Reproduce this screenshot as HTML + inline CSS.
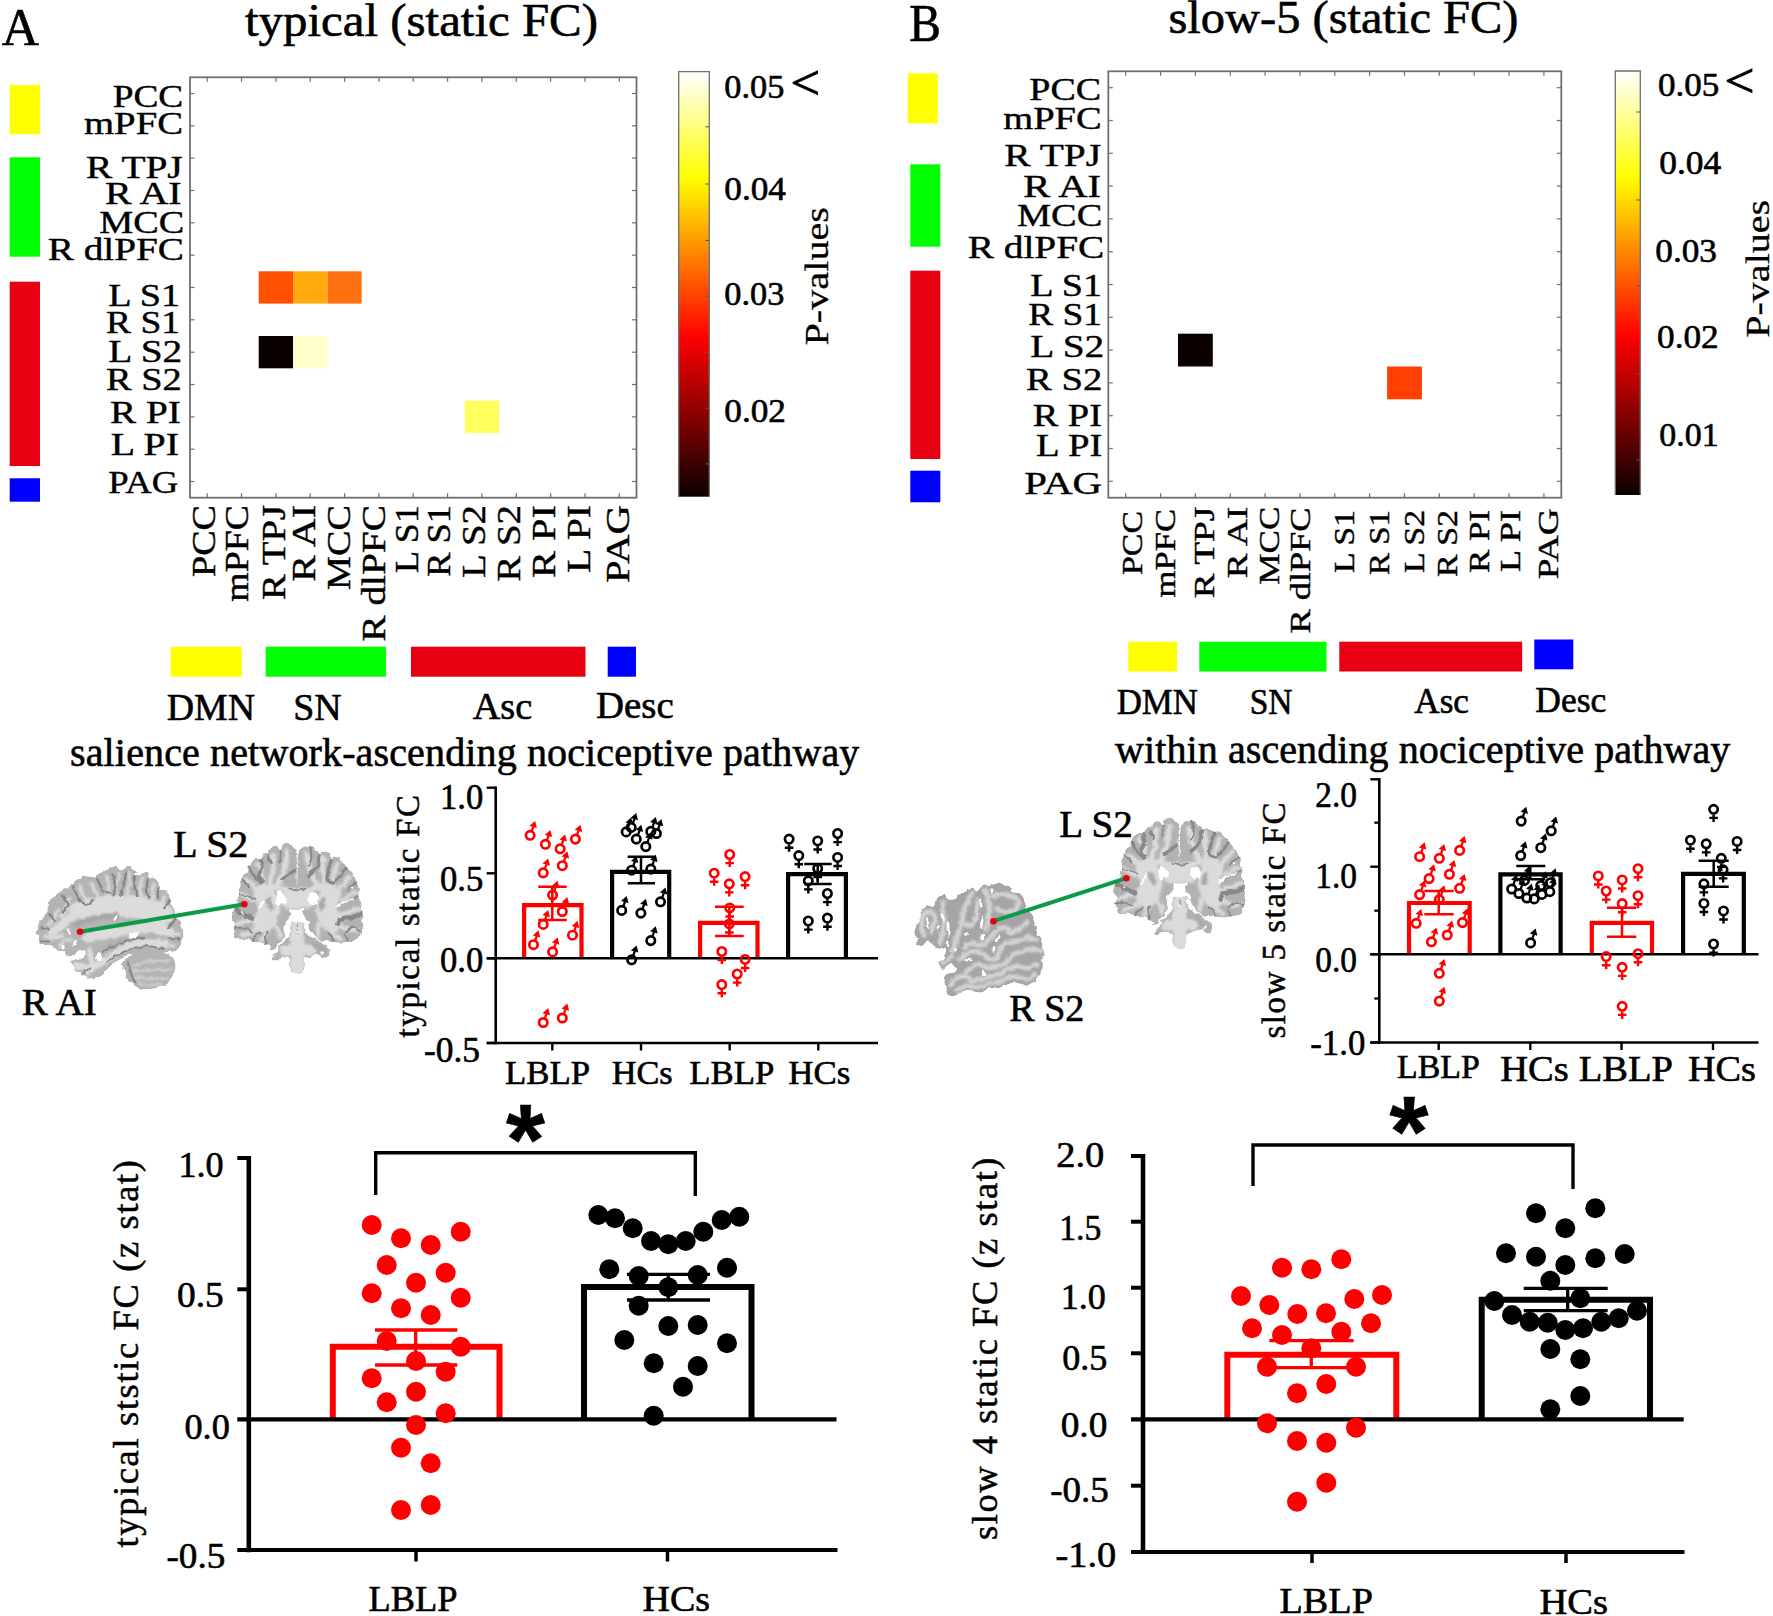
<!DOCTYPE html>
<html lang="en">
<head>
<meta charset="utf-8">
<title>Figure: static FC</title>
<style>
html,body{margin:0;padding:0;background:#fff;}
body{width:1773px;height:1616px;overflow:hidden;}
svg{display:block;font-family:'Liberation Serif', serif;}
text{stroke:#000;stroke-width:0.6;}
text[fill="#ff0000"]{stroke:#ff0000;}
</style>
</head>
<body>
<svg width="1773" height="1616" viewBox="0 0 1773 1616">
<defs>
<linearGradient id="hot" x1="0" y1="1" x2="0" y2="0">
<stop offset="0" stop-color="#0b0000"/>
<stop offset="0.375" stop-color="#ff0000"/>
<stop offset="0.75" stop-color="#ffff00"/>
<stop offset="1" stop-color="#ffffff"/>
</linearGradient>
<filter id="soft" filterUnits="userSpaceOnUse" x="0" y="780" width="1773" height="280"><feGaussianBlur stdDeviation="0.7"/></filter>
<filter id="soft2" filterUnits="userSpaceOnUse" x="0" y="780" width="1773" height="280"><feGaussianBlur stdDeviation="1.2"/></filter>
<filter id="rough" filterUnits="userSpaceOnUse" x="0" y="780" width="1773" height="280"><feTurbulence type="fractalNoise" baseFrequency="0.16" numOctaves="2" seed="7" result="n"/><feDisplacementMap in="SourceGraphic" in2="n" scale="4.5" xChannelSelector="R" yChannelSelector="G"/></filter>
</defs>
<rect x="0" y="0" width="1773" height="1616" fill="#ffffff"/>
<text x="1.7" y="45.0" font-size="53" text-anchor="start" fill="#000" textLength="37.3" lengthAdjust="spacingAndGlyphs">A</text>
<text x="909.3" y="40.7" font-size="52" text-anchor="start" fill="#000" textLength="31.7" lengthAdjust="spacingAndGlyphs">B</text>
<text x="245.0" y="36.0" font-size="46" text-anchor="start" fill="#000" textLength="353.0" lengthAdjust="spacingAndGlyphs">typical (static FC)</text>
<text x="1168.5" y="33.3" font-size="46" text-anchor="start" fill="#000" textLength="350.0" lengthAdjust="spacingAndGlyphs">slow-5 (static FC)</text>
<rect x="258.7" y="271.3" width="34.3" height="32.3" fill="#ff4f00"/>
<rect x="293.0" y="271.3" width="34.3" height="32.3" fill="#ffab0d"/>
<rect x="327.4" y="271.3" width="34.3" height="32.3" fill="#ff7010"/>
<rect x="258.7" y="336.0" width="34.3" height="32.3" fill="#0b0000"/>
<rect x="293.0" y="336.0" width="34.3" height="32.3" fill="#ffffcc"/>
<rect x="464.8" y="400.7" width="34.3" height="32.3" fill="#ffff5e"/>
<rect x="190.0" y="77.3" width="446.5" height="420.4" fill="none" stroke="#6f6f6f" stroke-width="1.8"/>
<line x1="207.2" y1="77.3" x2="207.2" y2="81.8" stroke="#6f6f6f" stroke-width="1.2" stroke-linecap="butt"/>
<line x1="207.2" y1="497.7" x2="207.2" y2="493.2" stroke="#6f6f6f" stroke-width="1.2" stroke-linecap="butt"/>
<line x1="190.0" y1="93.5" x2="194.5" y2="93.5" stroke="#6f6f6f" stroke-width="1.2" stroke-linecap="butt"/>
<line x1="636.5" y1="93.5" x2="632.0" y2="93.5" stroke="#6f6f6f" stroke-width="1.2" stroke-linecap="butt"/>
<line x1="241.5" y1="77.3" x2="241.5" y2="81.8" stroke="#6f6f6f" stroke-width="1.2" stroke-linecap="butt"/>
<line x1="241.5" y1="497.7" x2="241.5" y2="493.2" stroke="#6f6f6f" stroke-width="1.2" stroke-linecap="butt"/>
<line x1="190.0" y1="125.8" x2="194.5" y2="125.8" stroke="#6f6f6f" stroke-width="1.2" stroke-linecap="butt"/>
<line x1="636.5" y1="125.8" x2="632.0" y2="125.8" stroke="#6f6f6f" stroke-width="1.2" stroke-linecap="butt"/>
<line x1="275.9" y1="77.3" x2="275.9" y2="81.8" stroke="#6f6f6f" stroke-width="1.2" stroke-linecap="butt"/>
<line x1="275.9" y1="497.7" x2="275.9" y2="493.2" stroke="#6f6f6f" stroke-width="1.2" stroke-linecap="butt"/>
<line x1="190.0" y1="158.1" x2="194.5" y2="158.1" stroke="#6f6f6f" stroke-width="1.2" stroke-linecap="butt"/>
<line x1="636.5" y1="158.1" x2="632.0" y2="158.1" stroke="#6f6f6f" stroke-width="1.2" stroke-linecap="butt"/>
<line x1="310.2" y1="77.3" x2="310.2" y2="81.8" stroke="#6f6f6f" stroke-width="1.2" stroke-linecap="butt"/>
<line x1="310.2" y1="497.7" x2="310.2" y2="493.2" stroke="#6f6f6f" stroke-width="1.2" stroke-linecap="butt"/>
<line x1="190.0" y1="190.5" x2="194.5" y2="190.5" stroke="#6f6f6f" stroke-width="1.2" stroke-linecap="butt"/>
<line x1="636.5" y1="190.5" x2="632.0" y2="190.5" stroke="#6f6f6f" stroke-width="1.2" stroke-linecap="butt"/>
<line x1="344.6" y1="77.3" x2="344.6" y2="81.8" stroke="#6f6f6f" stroke-width="1.2" stroke-linecap="butt"/>
<line x1="344.6" y1="497.7" x2="344.6" y2="493.2" stroke="#6f6f6f" stroke-width="1.2" stroke-linecap="butt"/>
<line x1="190.0" y1="222.8" x2="194.5" y2="222.8" stroke="#6f6f6f" stroke-width="1.2" stroke-linecap="butt"/>
<line x1="636.5" y1="222.8" x2="632.0" y2="222.8" stroke="#6f6f6f" stroke-width="1.2" stroke-linecap="butt"/>
<line x1="378.9" y1="77.3" x2="378.9" y2="81.8" stroke="#6f6f6f" stroke-width="1.2" stroke-linecap="butt"/>
<line x1="378.9" y1="497.7" x2="378.9" y2="493.2" stroke="#6f6f6f" stroke-width="1.2" stroke-linecap="butt"/>
<line x1="190.0" y1="255.2" x2="194.5" y2="255.2" stroke="#6f6f6f" stroke-width="1.2" stroke-linecap="butt"/>
<line x1="636.5" y1="255.2" x2="632.0" y2="255.2" stroke="#6f6f6f" stroke-width="1.2" stroke-linecap="butt"/>
<line x1="413.2" y1="77.3" x2="413.2" y2="81.8" stroke="#6f6f6f" stroke-width="1.2" stroke-linecap="butt"/>
<line x1="413.2" y1="497.7" x2="413.2" y2="493.2" stroke="#6f6f6f" stroke-width="1.2" stroke-linecap="butt"/>
<line x1="190.0" y1="287.5" x2="194.5" y2="287.5" stroke="#6f6f6f" stroke-width="1.2" stroke-linecap="butt"/>
<line x1="636.5" y1="287.5" x2="632.0" y2="287.5" stroke="#6f6f6f" stroke-width="1.2" stroke-linecap="butt"/>
<line x1="447.6" y1="77.3" x2="447.6" y2="81.8" stroke="#6f6f6f" stroke-width="1.2" stroke-linecap="butt"/>
<line x1="447.6" y1="497.7" x2="447.6" y2="493.2" stroke="#6f6f6f" stroke-width="1.2" stroke-linecap="butt"/>
<line x1="190.0" y1="319.8" x2="194.5" y2="319.8" stroke="#6f6f6f" stroke-width="1.2" stroke-linecap="butt"/>
<line x1="636.5" y1="319.8" x2="632.0" y2="319.8" stroke="#6f6f6f" stroke-width="1.2" stroke-linecap="butt"/>
<line x1="481.9" y1="77.3" x2="481.9" y2="81.8" stroke="#6f6f6f" stroke-width="1.2" stroke-linecap="butt"/>
<line x1="481.9" y1="497.7" x2="481.9" y2="493.2" stroke="#6f6f6f" stroke-width="1.2" stroke-linecap="butt"/>
<line x1="190.0" y1="352.2" x2="194.5" y2="352.2" stroke="#6f6f6f" stroke-width="1.2" stroke-linecap="butt"/>
<line x1="636.5" y1="352.2" x2="632.0" y2="352.2" stroke="#6f6f6f" stroke-width="1.2" stroke-linecap="butt"/>
<line x1="516.3" y1="77.3" x2="516.3" y2="81.8" stroke="#6f6f6f" stroke-width="1.2" stroke-linecap="butt"/>
<line x1="516.3" y1="497.7" x2="516.3" y2="493.2" stroke="#6f6f6f" stroke-width="1.2" stroke-linecap="butt"/>
<line x1="190.0" y1="384.5" x2="194.5" y2="384.5" stroke="#6f6f6f" stroke-width="1.2" stroke-linecap="butt"/>
<line x1="636.5" y1="384.5" x2="632.0" y2="384.5" stroke="#6f6f6f" stroke-width="1.2" stroke-linecap="butt"/>
<line x1="550.6" y1="77.3" x2="550.6" y2="81.8" stroke="#6f6f6f" stroke-width="1.2" stroke-linecap="butt"/>
<line x1="550.6" y1="497.7" x2="550.6" y2="493.2" stroke="#6f6f6f" stroke-width="1.2" stroke-linecap="butt"/>
<line x1="190.0" y1="416.9" x2="194.5" y2="416.9" stroke="#6f6f6f" stroke-width="1.2" stroke-linecap="butt"/>
<line x1="636.5" y1="416.9" x2="632.0" y2="416.9" stroke="#6f6f6f" stroke-width="1.2" stroke-linecap="butt"/>
<line x1="585.0" y1="77.3" x2="585.0" y2="81.8" stroke="#6f6f6f" stroke-width="1.2" stroke-linecap="butt"/>
<line x1="585.0" y1="497.7" x2="585.0" y2="493.2" stroke="#6f6f6f" stroke-width="1.2" stroke-linecap="butt"/>
<line x1="190.0" y1="449.2" x2="194.5" y2="449.2" stroke="#6f6f6f" stroke-width="1.2" stroke-linecap="butt"/>
<line x1="636.5" y1="449.2" x2="632.0" y2="449.2" stroke="#6f6f6f" stroke-width="1.2" stroke-linecap="butt"/>
<line x1="619.3" y1="77.3" x2="619.3" y2="81.8" stroke="#6f6f6f" stroke-width="1.2" stroke-linecap="butt"/>
<line x1="619.3" y1="497.7" x2="619.3" y2="493.2" stroke="#6f6f6f" stroke-width="1.2" stroke-linecap="butt"/>
<line x1="190.0" y1="481.5" x2="194.5" y2="481.5" stroke="#6f6f6f" stroke-width="1.2" stroke-linecap="butt"/>
<line x1="636.5" y1="481.5" x2="632.0" y2="481.5" stroke="#6f6f6f" stroke-width="1.2" stroke-linecap="butt"/>
<rect x="1178.0" y="333.7" width="34.8" height="32.8" fill="#0b0000"/>
<rect x="1387.1" y="366.5" width="34.8" height="32.8" fill="#ff4000"/>
<rect x="1108.3" y="71.3" width="453.0" height="426.4" fill="none" stroke="#6f6f6f" stroke-width="1.8"/>
<line x1="1125.7" y1="71.3" x2="1125.7" y2="75.8" stroke="#6f6f6f" stroke-width="1.2" stroke-linecap="butt"/>
<line x1="1125.7" y1="497.7" x2="1125.7" y2="493.2" stroke="#6f6f6f" stroke-width="1.2" stroke-linecap="butt"/>
<line x1="1108.3" y1="87.7" x2="1112.8" y2="87.7" stroke="#6f6f6f" stroke-width="1.2" stroke-linecap="butt"/>
<line x1="1561.3" y1="87.7" x2="1556.8" y2="87.7" stroke="#6f6f6f" stroke-width="1.2" stroke-linecap="butt"/>
<line x1="1160.6" y1="71.3" x2="1160.6" y2="75.8" stroke="#6f6f6f" stroke-width="1.2" stroke-linecap="butt"/>
<line x1="1160.6" y1="497.7" x2="1160.6" y2="493.2" stroke="#6f6f6f" stroke-width="1.2" stroke-linecap="butt"/>
<line x1="1108.3" y1="120.5" x2="1112.8" y2="120.5" stroke="#6f6f6f" stroke-width="1.2" stroke-linecap="butt"/>
<line x1="1561.3" y1="120.5" x2="1556.8" y2="120.5" stroke="#6f6f6f" stroke-width="1.2" stroke-linecap="butt"/>
<line x1="1195.4" y1="71.3" x2="1195.4" y2="75.8" stroke="#6f6f6f" stroke-width="1.2" stroke-linecap="butt"/>
<line x1="1195.4" y1="497.7" x2="1195.4" y2="493.2" stroke="#6f6f6f" stroke-width="1.2" stroke-linecap="butt"/>
<line x1="1108.3" y1="153.3" x2="1112.8" y2="153.3" stroke="#6f6f6f" stroke-width="1.2" stroke-linecap="butt"/>
<line x1="1561.3" y1="153.3" x2="1556.8" y2="153.3" stroke="#6f6f6f" stroke-width="1.2" stroke-linecap="butt"/>
<line x1="1230.3" y1="71.3" x2="1230.3" y2="75.8" stroke="#6f6f6f" stroke-width="1.2" stroke-linecap="butt"/>
<line x1="1230.3" y1="497.7" x2="1230.3" y2="493.2" stroke="#6f6f6f" stroke-width="1.2" stroke-linecap="butt"/>
<line x1="1108.3" y1="186.1" x2="1112.8" y2="186.1" stroke="#6f6f6f" stroke-width="1.2" stroke-linecap="butt"/>
<line x1="1561.3" y1="186.1" x2="1556.8" y2="186.1" stroke="#6f6f6f" stroke-width="1.2" stroke-linecap="butt"/>
<line x1="1265.1" y1="71.3" x2="1265.1" y2="75.8" stroke="#6f6f6f" stroke-width="1.2" stroke-linecap="butt"/>
<line x1="1265.1" y1="497.7" x2="1265.1" y2="493.2" stroke="#6f6f6f" stroke-width="1.2" stroke-linecap="butt"/>
<line x1="1108.3" y1="218.9" x2="1112.8" y2="218.9" stroke="#6f6f6f" stroke-width="1.2" stroke-linecap="butt"/>
<line x1="1561.3" y1="218.9" x2="1556.8" y2="218.9" stroke="#6f6f6f" stroke-width="1.2" stroke-linecap="butt"/>
<line x1="1300.0" y1="71.3" x2="1300.0" y2="75.8" stroke="#6f6f6f" stroke-width="1.2" stroke-linecap="butt"/>
<line x1="1300.0" y1="497.7" x2="1300.0" y2="493.2" stroke="#6f6f6f" stroke-width="1.2" stroke-linecap="butt"/>
<line x1="1108.3" y1="251.7" x2="1112.8" y2="251.7" stroke="#6f6f6f" stroke-width="1.2" stroke-linecap="butt"/>
<line x1="1561.3" y1="251.7" x2="1556.8" y2="251.7" stroke="#6f6f6f" stroke-width="1.2" stroke-linecap="butt"/>
<line x1="1334.8" y1="71.3" x2="1334.8" y2="75.8" stroke="#6f6f6f" stroke-width="1.2" stroke-linecap="butt"/>
<line x1="1334.8" y1="497.7" x2="1334.8" y2="493.2" stroke="#6f6f6f" stroke-width="1.2" stroke-linecap="butt"/>
<line x1="1108.3" y1="284.5" x2="1112.8" y2="284.5" stroke="#6f6f6f" stroke-width="1.2" stroke-linecap="butt"/>
<line x1="1561.3" y1="284.5" x2="1556.8" y2="284.5" stroke="#6f6f6f" stroke-width="1.2" stroke-linecap="butt"/>
<line x1="1369.6" y1="71.3" x2="1369.6" y2="75.8" stroke="#6f6f6f" stroke-width="1.2" stroke-linecap="butt"/>
<line x1="1369.6" y1="497.7" x2="1369.6" y2="493.2" stroke="#6f6f6f" stroke-width="1.2" stroke-linecap="butt"/>
<line x1="1108.3" y1="317.3" x2="1112.8" y2="317.3" stroke="#6f6f6f" stroke-width="1.2" stroke-linecap="butt"/>
<line x1="1561.3" y1="317.3" x2="1556.8" y2="317.3" stroke="#6f6f6f" stroke-width="1.2" stroke-linecap="butt"/>
<line x1="1404.5" y1="71.3" x2="1404.5" y2="75.8" stroke="#6f6f6f" stroke-width="1.2" stroke-linecap="butt"/>
<line x1="1404.5" y1="497.7" x2="1404.5" y2="493.2" stroke="#6f6f6f" stroke-width="1.2" stroke-linecap="butt"/>
<line x1="1108.3" y1="350.1" x2="1112.8" y2="350.1" stroke="#6f6f6f" stroke-width="1.2" stroke-linecap="butt"/>
<line x1="1561.3" y1="350.1" x2="1556.8" y2="350.1" stroke="#6f6f6f" stroke-width="1.2" stroke-linecap="butt"/>
<line x1="1439.3" y1="71.3" x2="1439.3" y2="75.8" stroke="#6f6f6f" stroke-width="1.2" stroke-linecap="butt"/>
<line x1="1439.3" y1="497.7" x2="1439.3" y2="493.2" stroke="#6f6f6f" stroke-width="1.2" stroke-linecap="butt"/>
<line x1="1108.3" y1="382.9" x2="1112.8" y2="382.9" stroke="#6f6f6f" stroke-width="1.2" stroke-linecap="butt"/>
<line x1="1561.3" y1="382.9" x2="1556.8" y2="382.9" stroke="#6f6f6f" stroke-width="1.2" stroke-linecap="butt"/>
<line x1="1474.2" y1="71.3" x2="1474.2" y2="75.8" stroke="#6f6f6f" stroke-width="1.2" stroke-linecap="butt"/>
<line x1="1474.2" y1="497.7" x2="1474.2" y2="493.2" stroke="#6f6f6f" stroke-width="1.2" stroke-linecap="butt"/>
<line x1="1108.3" y1="415.7" x2="1112.8" y2="415.7" stroke="#6f6f6f" stroke-width="1.2" stroke-linecap="butt"/>
<line x1="1561.3" y1="415.7" x2="1556.8" y2="415.7" stroke="#6f6f6f" stroke-width="1.2" stroke-linecap="butt"/>
<line x1="1509.0" y1="71.3" x2="1509.0" y2="75.8" stroke="#6f6f6f" stroke-width="1.2" stroke-linecap="butt"/>
<line x1="1509.0" y1="497.7" x2="1509.0" y2="493.2" stroke="#6f6f6f" stroke-width="1.2" stroke-linecap="butt"/>
<line x1="1108.3" y1="448.5" x2="1112.8" y2="448.5" stroke="#6f6f6f" stroke-width="1.2" stroke-linecap="butt"/>
<line x1="1561.3" y1="448.5" x2="1556.8" y2="448.5" stroke="#6f6f6f" stroke-width="1.2" stroke-linecap="butt"/>
<line x1="1543.9" y1="71.3" x2="1543.9" y2="75.8" stroke="#6f6f6f" stroke-width="1.2" stroke-linecap="butt"/>
<line x1="1543.9" y1="497.7" x2="1543.9" y2="493.2" stroke="#6f6f6f" stroke-width="1.2" stroke-linecap="butt"/>
<line x1="1108.3" y1="481.3" x2="1112.8" y2="481.3" stroke="#6f6f6f" stroke-width="1.2" stroke-linecap="butt"/>
<line x1="1561.3" y1="481.3" x2="1556.8" y2="481.3" stroke="#6f6f6f" stroke-width="1.2" stroke-linecap="butt"/>
<rect x="9.7" y="85.0" width="30.3" height="49.3" fill="#ffff00"/>
<rect x="9.7" y="157.3" width="30.3" height="99.4" fill="#00ff00"/>
<rect x="9.7" y="281.7" width="30.3" height="184.3" fill="#e60012"/>
<rect x="9.7" y="478.3" width="30.3" height="23.4" fill="#0000ff"/>
<rect x="907.7" y="73.3" width="30.0" height="50.0" fill="#ffff00"/>
<rect x="910.3" y="164.3" width="30.0" height="82.4" fill="#00ff00"/>
<rect x="910.3" y="270.7" width="30.0" height="188.3" fill="#e60012"/>
<rect x="910.3" y="470.7" width="30.0" height="31.6" fill="#0000ff"/>
<text x="112.7" y="106.6" font-size="31" text-anchor="start" fill="#000" textLength="70.6" lengthAdjust="spacingAndGlyphs" style="stroke-width:0.4">PCC</text>
<text x="84.0" y="133.6" font-size="31" text-anchor="start" fill="#000" textLength="99.0" lengthAdjust="spacingAndGlyphs" style="stroke-width:0.4">mPFC</text>
<text x="86.0" y="178.0" font-size="31" text-anchor="start" fill="#000" textLength="96.7" lengthAdjust="spacingAndGlyphs" style="stroke-width:0.4">R TPJ</text>
<text x="105.0" y="204.3" font-size="31" text-anchor="start" fill="#000" textLength="76.7" lengthAdjust="spacingAndGlyphs" style="stroke-width:0.4">R AI</text>
<text x="99.3" y="233.0" font-size="31" text-anchor="start" fill="#000" textLength="85.0" lengthAdjust="spacingAndGlyphs" style="stroke-width:0.4">MCC</text>
<text x="47.7" y="260.3" font-size="31" text-anchor="start" fill="#000" textLength="136.3" lengthAdjust="spacingAndGlyphs" style="stroke-width:0.4">R dlPFC</text>
<text x="108.3" y="306.0" font-size="31" text-anchor="start" fill="#000" textLength="71.7" lengthAdjust="spacingAndGlyphs" style="stroke-width:0.4">L S1</text>
<text x="106.0" y="333.0" font-size="31" text-anchor="start" fill="#000" textLength="74.0" lengthAdjust="spacingAndGlyphs" style="stroke-width:0.4">R S1</text>
<text x="108.3" y="362.0" font-size="31" text-anchor="start" fill="#000" textLength="74.0" lengthAdjust="spacingAndGlyphs" style="stroke-width:0.4">L S2</text>
<text x="106.0" y="390.3" font-size="31" text-anchor="start" fill="#000" textLength="75.7" lengthAdjust="spacingAndGlyphs" style="stroke-width:0.4">R S2</text>
<text x="110.0" y="422.6" font-size="31" text-anchor="start" fill="#000" textLength="70.7" lengthAdjust="spacingAndGlyphs" style="stroke-width:0.4">R PI</text>
<text x="110.7" y="455.3" font-size="31" text-anchor="start" fill="#000" textLength="68.3" lengthAdjust="spacingAndGlyphs" style="stroke-width:0.4">L PI</text>
<text x="108.3" y="492.6" font-size="31" text-anchor="start" fill="#000" textLength="70.0" lengthAdjust="spacingAndGlyphs" style="stroke-width:0.4">PAG</text>
<text x="1029.3" y="99.6" font-size="31" text-anchor="start" fill="#000" textLength="71.7" lengthAdjust="spacingAndGlyphs" style="stroke-width:0.4">PCC</text>
<text x="1003.3" y="128.6" font-size="31" text-anchor="start" fill="#000" textLength="98.4" lengthAdjust="spacingAndGlyphs" style="stroke-width:0.4">mPFC</text>
<text x="1004.3" y="166.0" font-size="31" text-anchor="start" fill="#000" textLength="96.7" lengthAdjust="spacingAndGlyphs" style="stroke-width:0.4">R TPJ</text>
<text x="1023.3" y="197.0" font-size="31" text-anchor="start" fill="#000" textLength="77.7" lengthAdjust="spacingAndGlyphs" style="stroke-width:0.4">R AI</text>
<text x="1017.0" y="226.3" font-size="31" text-anchor="start" fill="#000" textLength="85.3" lengthAdjust="spacingAndGlyphs" style="stroke-width:0.4">MCC</text>
<text x="967.7" y="257.6" font-size="31" text-anchor="start" fill="#000" textLength="136.6" lengthAdjust="spacingAndGlyphs" style="stroke-width:0.4">R dlPFC</text>
<text x="1030.3" y="296.3" font-size="31" text-anchor="start" fill="#000" textLength="71.7" lengthAdjust="spacingAndGlyphs" style="stroke-width:0.4">L S1</text>
<text x="1028.3" y="325.3" font-size="31" text-anchor="start" fill="#000" textLength="73.7" lengthAdjust="spacingAndGlyphs" style="stroke-width:0.4">R S1</text>
<text x="1030.3" y="357.0" font-size="31" text-anchor="start" fill="#000" textLength="74.0" lengthAdjust="spacingAndGlyphs" style="stroke-width:0.4">L S2</text>
<text x="1026.0" y="390.3" font-size="31" text-anchor="start" fill="#000" textLength="76.3" lengthAdjust="spacingAndGlyphs" style="stroke-width:0.4">R S2</text>
<text x="1032.7" y="426.0" font-size="31" text-anchor="start" fill="#000" textLength="69.3" lengthAdjust="spacingAndGlyphs" style="stroke-width:0.4">R PI</text>
<text x="1036.0" y="456.0" font-size="31" text-anchor="start" fill="#000" textLength="66.3" lengthAdjust="spacingAndGlyphs" style="stroke-width:0.4">L PI</text>
<text x="1024.3" y="494.3" font-size="31" text-anchor="start" fill="#000" textLength="77.7" lengthAdjust="spacingAndGlyphs" style="stroke-width:0.4">PAG</text>
<text transform="translate(215.0,577.0) rotate(-90)" font-size="33" text-anchor="start" fill="#000" textLength="72.0" lengthAdjust="spacingAndGlyphs" style="stroke-width:0.4">PCC</text>
<text transform="translate(248.3,601.7) rotate(-90)" font-size="33" text-anchor="start" fill="#000" textLength="96.7" lengthAdjust="spacingAndGlyphs" style="stroke-width:0.4">mPFC</text>
<text transform="translate(285.0,600.0) rotate(-90)" font-size="33" text-anchor="start" fill="#000" textLength="95.0" lengthAdjust="spacingAndGlyphs" style="stroke-width:0.4">R TPJ</text>
<text transform="translate(315.0,581.7) rotate(-90)" font-size="33" text-anchor="start" fill="#000" textLength="76.7" lengthAdjust="spacingAndGlyphs" style="stroke-width:0.4">R AI</text>
<text transform="translate(350.0,590.0) rotate(-90)" font-size="33" text-anchor="start" fill="#000" textLength="85.0" lengthAdjust="spacingAndGlyphs" style="stroke-width:0.4">MCC</text>
<text transform="translate(385.0,641.7) rotate(-90)" font-size="33" text-anchor="start" fill="#000" textLength="136.7" lengthAdjust="spacingAndGlyphs" style="stroke-width:0.4">R dlPFC</text>
<text transform="translate(418.3,573.0) rotate(-90)" font-size="33" text-anchor="start" fill="#000" textLength="68.0" lengthAdjust="spacingAndGlyphs" style="stroke-width:0.4">L S1</text>
<text transform="translate(450.0,576.7) rotate(-90)" font-size="33" text-anchor="start" fill="#000" textLength="71.7" lengthAdjust="spacingAndGlyphs" style="stroke-width:0.4">R S1</text>
<text transform="translate(485.0,578.0) rotate(-90)" font-size="33" text-anchor="start" fill="#000" textLength="73.0" lengthAdjust="spacingAndGlyphs" style="stroke-width:0.4">L S2</text>
<text transform="translate(520.0,581.7) rotate(-90)" font-size="33" text-anchor="start" fill="#000" textLength="76.7" lengthAdjust="spacingAndGlyphs" style="stroke-width:0.4">R S2</text>
<text transform="translate(555.0,578.0) rotate(-90)" font-size="33" text-anchor="start" fill="#000" textLength="73.0" lengthAdjust="spacingAndGlyphs" style="stroke-width:0.4">R PI</text>
<text transform="translate(590.0,573.0) rotate(-90)" font-size="33" text-anchor="start" fill="#000" textLength="68.0" lengthAdjust="spacingAndGlyphs" style="stroke-width:0.4">L PI</text>
<text transform="translate(629.3,583.0) rotate(-90)" font-size="33" text-anchor="start" fill="#000" textLength="78.0" lengthAdjust="spacingAndGlyphs" style="stroke-width:0.4">PAG</text>
<text transform="translate(1142.0,575.0) rotate(-90)" font-size="29" text-anchor="start" fill="#000" textLength="64.0" lengthAdjust="spacingAndGlyphs" style="stroke-width:0.4">PCC</text>
<text transform="translate(1175.0,597.5) rotate(-90)" font-size="29" text-anchor="start" fill="#000" textLength="88.5" lengthAdjust="spacingAndGlyphs" style="stroke-width:0.4">mPFC</text>
<text transform="translate(1213.7,598.3) rotate(-90)" font-size="29" text-anchor="start" fill="#000" textLength="91.6" lengthAdjust="spacingAndGlyphs" style="stroke-width:0.4">R TPJ</text>
<text transform="translate(1247.0,578.3) rotate(-90)" font-size="29" text-anchor="start" fill="#000" textLength="71.6" lengthAdjust="spacingAndGlyphs" style="stroke-width:0.4">R AI</text>
<text transform="translate(1278.7,584.7) rotate(-90)" font-size="29" text-anchor="start" fill="#000" textLength="78.0" lengthAdjust="spacingAndGlyphs" style="stroke-width:0.4">MCC</text>
<text transform="translate(1310.3,633.5) rotate(-90)" font-size="29" text-anchor="start" fill="#000" textLength="126.0" lengthAdjust="spacingAndGlyphs" style="stroke-width:0.4">R dlPFC</text>
<text transform="translate(1353.7,573.0) rotate(-90)" font-size="29" text-anchor="start" fill="#000" textLength="63.0" lengthAdjust="spacingAndGlyphs" style="stroke-width:0.4">L S1</text>
<text transform="translate(1388.7,575.0) rotate(-90)" font-size="29" text-anchor="start" fill="#000" textLength="65.0" lengthAdjust="spacingAndGlyphs" style="stroke-width:0.4">R S1</text>
<text transform="translate(1423.7,573.0) rotate(-90)" font-size="29" text-anchor="start" fill="#000" textLength="63.0" lengthAdjust="spacingAndGlyphs" style="stroke-width:0.4">L S2</text>
<text transform="translate(1457.0,577.0) rotate(-90)" font-size="29" text-anchor="start" fill="#000" textLength="67.0" lengthAdjust="spacingAndGlyphs" style="stroke-width:0.4">R S2</text>
<text transform="translate(1488.7,573.0) rotate(-90)" font-size="29" text-anchor="start" fill="#000" textLength="63.0" lengthAdjust="spacingAndGlyphs" style="stroke-width:0.4">R PI</text>
<text transform="translate(1520.3,572.0) rotate(-90)" font-size="29" text-anchor="start" fill="#000" textLength="62.0" lengthAdjust="spacingAndGlyphs" style="stroke-width:0.4">L PI</text>
<text transform="translate(1557.8,579.3) rotate(-90)" font-size="29" text-anchor="start" fill="#000" textLength="71.0" lengthAdjust="spacingAndGlyphs" style="stroke-width:0.4">PAG</text>
<rect x="678.7" y="71.7" width="30.6" height="425.0" fill="url(#hot)"/>
<path d="M678.7,496.7 L678.7,71.7 L709.3,71.7 L709.3,496.7" fill="none" stroke="#6f6f6f" stroke-width="1.3"/>
<line x1="705.3" y1="126.8" x2="709.3" y2="126.8" stroke="#5a5a5a" stroke-width="1" stroke-linecap="butt"/>
<line x1="705.3" y1="184.0" x2="709.3" y2="184.0" stroke="#5a5a5a" stroke-width="1" stroke-linecap="butt"/>
<line x1="705.3" y1="240.5" x2="709.3" y2="240.5" stroke="#5a5a5a" stroke-width="1" stroke-linecap="butt"/>
<line x1="705.3" y1="296.2" x2="709.3" y2="296.2" stroke="#5a5a5a" stroke-width="1" stroke-linecap="butt"/>
<line x1="705.3" y1="352.5" x2="709.3" y2="352.5" stroke="#5a5a5a" stroke-width="1" stroke-linecap="butt"/>
<line x1="705.3" y1="408.2" x2="709.3" y2="408.2" stroke="#5a5a5a" stroke-width="1" stroke-linecap="butt"/>
<line x1="705.3" y1="463.9" x2="709.3" y2="463.9" stroke="#5a5a5a" stroke-width="1" stroke-linecap="butt"/>
<rect x="1615.3" y="71.0" width="25.0" height="424.0" fill="url(#hot)"/>
<path d="M1615.3,495.0 L1615.3,71.0 L1640.3,71.0 L1640.3,495.0" fill="none" stroke="#6f6f6f" stroke-width="1.3"/>
<line x1="1636.3" y1="112.0" x2="1640.3" y2="112.0" stroke="#5a5a5a" stroke-width="1" stroke-linecap="butt"/>
<line x1="1636.3" y1="200.0" x2="1640.3" y2="200.0" stroke="#5a5a5a" stroke-width="1" stroke-linecap="butt"/>
<line x1="1636.3" y1="286.0" x2="1640.3" y2="286.0" stroke="#5a5a5a" stroke-width="1" stroke-linecap="butt"/>
<line x1="1636.3" y1="374.0" x2="1640.3" y2="374.0" stroke="#5a5a5a" stroke-width="1" stroke-linecap="butt"/>
<line x1="1636.3" y1="460.0" x2="1640.3" y2="460.0" stroke="#5a5a5a" stroke-width="1" stroke-linecap="butt"/>
<text x="724.3" y="97.7" font-size="33" text-anchor="start" fill="#000" textLength="60.0" lengthAdjust="spacingAndGlyphs">0.05</text>
<text x="724.3" y="200.3" font-size="33" text-anchor="start" fill="#000" textLength="61.7" lengthAdjust="spacingAndGlyphs">0.04</text>
<text x="724.3" y="305.0" font-size="33" text-anchor="start" fill="#000" textLength="60.0" lengthAdjust="spacingAndGlyphs">0.03</text>
<text x="724.3" y="421.7" font-size="33" text-anchor="start" fill="#000" textLength="61.7" lengthAdjust="spacingAndGlyphs">0.02</text>
<text x="1658.0" y="96.0" font-size="33" text-anchor="start" fill="#000" textLength="61.3" lengthAdjust="spacingAndGlyphs">0.05</text>
<text x="1659.3" y="174.3" font-size="33" text-anchor="start" fill="#000" textLength="62.0" lengthAdjust="spacingAndGlyphs">0.04</text>
<text x="1655.3" y="261.7" font-size="33" text-anchor="start" fill="#000" textLength="61.7" lengthAdjust="spacingAndGlyphs">0.03</text>
<text x="1657.0" y="347.7" font-size="33" text-anchor="start" fill="#000" textLength="61.7" lengthAdjust="spacingAndGlyphs">0.02</text>
<text x="1659.3" y="446.0" font-size="33" text-anchor="start" fill="#000" textLength="59.4" lengthAdjust="spacingAndGlyphs">0.01</text>
<text x="790.5" y="99.0" font-size="48" text-anchor="start" fill="#000" textLength="29.5" lengthAdjust="spacingAndGlyphs" style="stroke-width:0.9">&lt;</text>
<text x="1724.5" y="96.5" font-size="48" text-anchor="start" fill="#000" textLength="30.0" lengthAdjust="spacingAndGlyphs" style="stroke-width:0.9">&lt;</text>
<text transform="translate(827.5,345.5) rotate(-90)" font-size="34.5" text-anchor="start" fill="#000" textLength="138.5" lengthAdjust="spacingAndGlyphs" style="stroke-width:0.25">P-values</text>
<text transform="translate(1768.5,337.8) rotate(-90)" font-size="34.5" text-anchor="start" fill="#000" textLength="138.0" lengthAdjust="spacingAndGlyphs" style="stroke-width:0.25">P-values</text>
<rect x="170.7" y="646.7" width="71.0" height="30.0" fill="#ffff00"/>
<rect x="265.7" y="646.7" width="120.3" height="30.0" fill="#00ff00"/>
<rect x="411.0" y="646.7" width="174.5" height="30.0" fill="#e60012"/>
<rect x="607.7" y="646.7" width="28.3" height="30.0" fill="#0000ff"/>
<rect x="1128.3" y="641.7" width="48.7" height="29.8" fill="#ffff00"/>
<rect x="1199.3" y="641.7" width="127.2" height="29.8" fill="#00ff00"/>
<rect x="1339.3" y="641.7" width="182.9" height="29.8" fill="#e60012"/>
<rect x="1534.3" y="639.5" width="39.0" height="29.8" fill="#0000ff"/>
<text x="166.7" y="720.0" font-size="38" text-anchor="start" fill="#000" textLength="88.3" lengthAdjust="spacingAndGlyphs">DMN</text>
<text x="293.3" y="720.0" font-size="38" text-anchor="start" fill="#000" textLength="48.4" lengthAdjust="spacingAndGlyphs">SN</text>
<text x="472.7" y="718.5" font-size="38" text-anchor="start" fill="#000" textLength="59.6" lengthAdjust="spacingAndGlyphs">Asc</text>
<text x="596.0" y="718.3" font-size="38" text-anchor="start" fill="#000" textLength="77.7" lengthAdjust="spacingAndGlyphs">Desc</text>
<text x="1116.7" y="714.0" font-size="36" text-anchor="start" fill="#000" textLength="81.3" lengthAdjust="spacingAndGlyphs">DMN</text>
<text x="1249.7" y="714.0" font-size="36" text-anchor="start" fill="#000" textLength="42.8" lengthAdjust="spacingAndGlyphs">SN</text>
<text x="1414.3" y="712.7" font-size="36" text-anchor="start" fill="#000" textLength="54.6" lengthAdjust="spacingAndGlyphs">Asc</text>
<text x="1535.3" y="711.7" font-size="36" text-anchor="start" fill="#000" textLength="71.0" lengthAdjust="spacingAndGlyphs">Desc</text>
<text x="70.0" y="766.0" font-size="40" text-anchor="start" fill="#000" textLength="789.3" lengthAdjust="spacing">salience network-ascending nociceptive pathway</text>
<text x="1115.0" y="763.0" font-size="40" text-anchor="start" fill="#000" textLength="615.3" lengthAdjust="spacing">within ascending nociceptive pathway</text>
<clipPath id="bc1"><path d="M36.7,931.7 C36.7,929.3 38.3,923.7 39.6,921.2 C40.9,918.6 42.9,918.4 44.4,916.4 C45.8,914.3 47.4,911.1 48.2,908.7 C49.0,906.3 48.1,904.2 49.2,902.0 C50.3,899.7 52.9,897.2 54.9,895.3 C57.0,893.4 59.4,891.8 61.6,890.5 C63.9,889.2 66.6,888.9 68.4,887.6 C70.1,886.3 70.3,884.4 72.2,882.8 C74.1,881.2 77.3,879.0 79.9,878.0 C82.4,877.0 85.0,876.7 87.5,876.6 C90.1,876.4 93.3,877.6 95.2,877.1 C97.1,876.5 97.1,874.3 99.0,873.2 C100.9,872.1 104.9,871.3 106.7,870.3 C108.5,869.4 108.0,868.0 109.6,867.5 C111.2,866.9 114.4,866.5 116.3,867.0 C118.2,867.5 119.3,870.3 121.1,870.3 C122.8,870.3 125.1,867.5 126.8,867.0 C128.6,866.5 130.0,866.9 131.6,867.5 C133.2,868.0 135.9,869.1 136.4,870.3 C136.9,871.6 133.7,874.7 134.5,875.1 C135.3,875.6 139.0,873.7 141.2,873.2 C143.5,872.7 146.5,871.6 147.9,872.3 C149.4,872.9 148.7,876.1 149.8,877.1 C151.0,878.0 153.2,877.1 154.6,878.0 C156.1,879.0 157.7,880.9 158.5,882.8 C159.3,884.7 158.2,888.2 159.4,889.5 C160.7,890.8 164.5,889.4 166.1,890.5 C167.7,891.6 168.2,894.1 169.0,896.2 C169.8,898.3 170.1,900.9 170.9,902.9 C171.7,905.0 172.9,906.8 173.8,908.7 C174.8,910.6 175.7,912.2 176.7,914.4 C177.7,916.7 178.6,919.9 179.6,922.1 C180.5,924.4 181.8,925.8 182.4,927.9 C183.1,929.9 183.4,932.3 183.4,934.6 C183.4,936.8 183.1,939.2 182.4,941.3 C181.8,943.4 180.7,945.4 179.6,947.0 C178.4,948.6 177.5,950.1 175.7,950.9 C174.0,951.7 170.9,951.5 169.0,951.8 C167.1,952.2 164.1,952.2 164.2,952.8 C164.4,953.4 168.2,954.2 170.0,955.7 C171.7,957.1 173.9,959.2 174.8,961.4 C175.7,963.7 175.6,966.7 175.3,969.1 C174.9,971.5 174.1,973.6 172.9,975.8 C171.7,978.0 170.0,980.8 168.1,982.5 C166.1,984.3 163.9,985.3 161.4,986.4 C158.8,987.4 155.8,988.3 152.7,988.7 C149.7,989.2 146.0,989.6 143.1,989.2 C140.3,988.8 137.7,987.5 135.5,986.4 C133.2,985.2 131.2,984.0 129.7,982.5 C128.3,981.1 127.5,979.5 126.8,977.7 C126.2,976.0 126.5,973.7 125.9,972.0 C125.2,970.2 123.6,968.8 123.0,967.2 C122.4,965.6 121.6,963.8 122.0,962.4 C122.5,960.9 124.3,959.8 125.9,958.5 C127.5,957.3 131.6,955.2 131.6,954.7 C131.6,954.2 127.8,955.0 125.9,955.7 C124.0,956.3 122.0,957.4 120.1,958.5 C118.2,959.7 116.3,960.8 114.4,962.4 C112.5,964.0 110.5,966.2 108.6,968.1 C106.7,970.1 104.8,972.3 102.9,973.9 C100.9,975.5 99.0,976.8 97.1,977.7 C95.2,978.7 93.3,979.8 91.4,979.6 C89.4,979.5 87.5,977.9 85.6,976.8 C83.7,975.6 81.6,974.2 79.9,972.9 C78.1,971.7 76.5,970.4 75.1,969.1 C73.6,967.8 72.0,966.5 71.2,965.3 C70.4,964.0 69.6,962.4 70.3,961.4 C70.9,960.5 73.5,960.0 75.1,959.5 C76.7,959.0 78.4,959.2 79.9,958.5 C81.3,957.9 82.9,956.9 83.7,955.7 C84.5,954.4 85.1,951.8 84.7,950.9 C84.2,949.9 82.3,949.6 80.8,949.9 C79.4,950.2 77.5,951.8 76.0,952.8 C74.6,953.8 73.5,955.0 72.2,955.7 C70.9,956.3 69.5,957.3 68.4,956.6 C67.2,956.0 66.6,952.8 65.5,951.8 C64.4,950.9 63.1,951.2 61.6,950.9 C60.2,950.6 58.4,950.7 56.8,949.9 C55.2,949.1 53.6,946.9 52.1,946.1 C50.5,945.3 49.0,945.4 47.3,945.1 C45.5,944.8 42.9,945.1 41.5,944.2 C40.1,943.2 38.9,940.8 38.6,939.4 C38.3,937.9 39.9,936.8 39.6,935.5 C39.3,934.3 36.7,934.1 36.7,931.7Z"/></clipPath>
<g filter="url(#rough)">
<g clip-path="url(#bc1)">
<path d="M36.7,931.7 C36.7,929.3 38.3,923.7 39.6,921.2 C40.9,918.6 42.9,918.4 44.4,916.4 C45.8,914.3 47.4,911.1 48.2,908.7 C49.0,906.3 48.1,904.2 49.2,902.0 C50.3,899.7 52.9,897.2 54.9,895.3 C57.0,893.4 59.4,891.8 61.6,890.5 C63.9,889.2 66.6,888.9 68.4,887.6 C70.1,886.3 70.3,884.4 72.2,882.8 C74.1,881.2 77.3,879.0 79.9,878.0 C82.4,877.0 85.0,876.7 87.5,876.6 C90.1,876.4 93.3,877.6 95.2,877.1 C97.1,876.5 97.1,874.3 99.0,873.2 C100.9,872.1 104.9,871.3 106.7,870.3 C108.5,869.4 108.0,868.0 109.6,867.5 C111.2,866.9 114.4,866.5 116.3,867.0 C118.2,867.5 119.3,870.3 121.1,870.3 C122.8,870.3 125.1,867.5 126.8,867.0 C128.6,866.5 130.0,866.9 131.6,867.5 C133.2,868.0 135.9,869.1 136.4,870.3 C136.9,871.6 133.7,874.7 134.5,875.1 C135.3,875.6 139.0,873.7 141.2,873.2 C143.5,872.7 146.5,871.6 147.9,872.3 C149.4,872.9 148.7,876.1 149.8,877.1 C151.0,878.0 153.2,877.1 154.6,878.0 C156.1,879.0 157.7,880.9 158.5,882.8 C159.3,884.7 158.2,888.2 159.4,889.5 C160.7,890.8 164.5,889.4 166.1,890.5 C167.7,891.6 168.2,894.1 169.0,896.2 C169.8,898.3 170.1,900.9 170.9,902.9 C171.7,905.0 172.9,906.8 173.8,908.7 C174.8,910.6 175.7,912.2 176.7,914.4 C177.7,916.7 178.6,919.9 179.6,922.1 C180.5,924.4 181.8,925.8 182.4,927.9 C183.1,929.9 183.4,932.3 183.4,934.6 C183.4,936.8 183.1,939.2 182.4,941.3 C181.8,943.4 180.7,945.4 179.6,947.0 C178.4,948.6 177.5,950.1 175.7,950.9 C174.0,951.7 170.9,951.5 169.0,951.8 C167.1,952.2 164.1,952.2 164.2,952.8 C164.4,953.4 168.2,954.2 170.0,955.7 C171.7,957.1 173.9,959.2 174.8,961.4 C175.7,963.7 175.6,966.7 175.3,969.1 C174.9,971.5 174.1,973.6 172.9,975.8 C171.7,978.0 170.0,980.8 168.1,982.5 C166.1,984.3 163.9,985.3 161.4,986.4 C158.8,987.4 155.8,988.3 152.7,988.7 C149.7,989.2 146.0,989.6 143.1,989.2 C140.3,988.8 137.7,987.5 135.5,986.4 C133.2,985.2 131.2,984.0 129.7,982.5 C128.3,981.1 127.5,979.5 126.8,977.7 C126.2,976.0 126.5,973.7 125.9,972.0 C125.2,970.2 123.6,968.8 123.0,967.2 C122.4,965.6 121.6,963.8 122.0,962.4 C122.5,960.9 124.3,959.8 125.9,958.5 C127.5,957.3 131.6,955.2 131.6,954.7 C131.6,954.2 127.8,955.0 125.9,955.7 C124.0,956.3 122.0,957.4 120.1,958.5 C118.2,959.7 116.3,960.8 114.4,962.4 C112.5,964.0 110.5,966.2 108.6,968.1 C106.7,970.1 104.8,972.3 102.9,973.9 C100.9,975.5 99.0,976.8 97.1,977.7 C95.2,978.7 93.3,979.8 91.4,979.6 C89.4,979.5 87.5,977.9 85.6,976.8 C83.7,975.6 81.6,974.2 79.9,972.9 C78.1,971.7 76.5,970.4 75.1,969.1 C73.6,967.8 72.0,966.5 71.2,965.3 C70.4,964.0 69.6,962.4 70.3,961.4 C70.9,960.5 73.5,960.0 75.1,959.5 C76.7,959.0 78.4,959.2 79.9,958.5 C81.3,957.9 82.9,956.9 83.7,955.7 C84.5,954.4 85.1,951.8 84.7,950.9 C84.2,949.9 82.3,949.6 80.8,949.9 C79.4,950.2 77.5,951.8 76.0,952.8 C74.6,953.8 73.5,955.0 72.2,955.7 C70.9,956.3 69.5,957.3 68.4,956.6 C67.2,956.0 66.6,952.8 65.5,951.8 C64.4,950.9 63.1,951.2 61.6,950.9 C60.2,950.6 58.4,950.7 56.8,949.9 C55.2,949.1 53.6,946.9 52.1,946.1 C50.5,945.3 49.0,945.4 47.3,945.1 C45.5,944.8 42.9,945.1 41.5,944.2 C40.1,943.2 38.9,940.8 38.6,939.4 C38.3,937.9 39.9,936.8 39.6,935.5 C39.3,934.3 36.7,934.1 36.7,931.7Z" fill="#b4b4b4"/>
<g filter="url(#soft2)" fill="none" stroke="#dcdcdc" stroke-linecap="round" stroke-linejoin="round">
<path d="M79.9,912.5 C84.3,911.6 97.4,907.7 106.7,906.8 C116.0,905.8 126.2,905.5 135.5,906.8 C144.7,908.1 157.8,913.2 162.3,914.4" stroke-width="22.1"/>
<path d="M52.1,931.7 C53.8,930.4 58.9,926.9 62.6,924.0 C66.3,921.2 70.6,917.0 74.1,914.4 C77.6,911.9 82.1,909.7 83.7,908.7" stroke-width="8.6"/>
<path d="M87.5,937.5 C92.3,936.5 105.9,933.3 116.3,931.7 C126.7,930.1 141.1,927.9 149.8,927.9 C158.6,927.9 165.8,931.1 169.0,931.7" stroke-width="10.5"/>
<path d="M58.8,908.7 C58.1,910.0 56.5,913.8 54.9,916.4 C53.3,918.9 50.1,922.8 49.2,924.0" stroke-width="3.8"/>
<path d="M68.4,899.1 C68.0,900.7 67.6,905.8 66.4,908.7 C65.3,911.6 62.4,915.1 61.6,916.4" stroke-width="3.8"/>
<path d="M79.9,886.6 C80.5,888.2 82.1,893.5 83.7,896.2 C85.3,898.9 88.5,901.8 89.4,902.9" stroke-width="3.8"/>
<path d="M91.4,882.8 C92.2,884.6 94.9,890.3 96.2,893.4 C97.4,896.4 98.6,899.7 99.0,901.0" stroke-width="3.5"/>
<path d="M106.7,876.1 C107.0,877.9 108.1,883.1 108.6,886.6 C109.1,890.2 109.4,895.4 109.6,897.2" stroke-width="3.3"/>
<path d="M119.2,874.2 C118.7,876.1 116.9,882.0 116.3,885.7 C115.7,889.4 115.5,894.5 115.3,896.2" stroke-width="2.9"/>
<path d="M129.7,873.2 C129.6,875.3 129.2,881.8 128.8,885.7 C128.3,889.5 127.2,894.5 126.8,896.2" stroke-width="2.9"/>
<path d="M142.2,878.0 C141.9,879.9 140.4,886.2 140.3,889.5 C140.1,892.9 141.1,896.7 141.2,898.1" stroke-width="3.3"/>
<path d="M153.7,883.8 C153.5,885.4 152.7,890.5 152.7,893.4 C152.7,896.2 153.5,899.7 153.7,901.0" stroke-width="3.3"/>
<path d="M164.2,896.2 C163.9,897.7 162.9,902.5 162.3,904.9 C161.7,907.3 160.7,909.7 160.4,910.6" stroke-width="3.5"/>
<path d="M173.8,916.4 C172.9,917.0 170.0,919.2 168.1,920.2 C166.1,921.2 163.3,921.8 162.3,922.1" stroke-width="3.8"/>
<path d="M178.6,934.6 C177.5,934.6 174.3,935.1 171.9,934.6 C169.5,934.1 165.5,932.2 164.2,931.7" stroke-width="3.8"/>
<path d="M173.8,946.1 C172.5,945.6 168.7,944.3 166.1,943.2 C163.6,942.1 159.8,940.0 158.5,939.4" stroke-width="3.5"/>
<path d="M45.3,937.5 C46.9,937.5 52.1,937.8 54.9,937.5 C57.8,937.1 61.3,935.9 62.6,935.5" stroke-width="4.2"/>
<path d="M58.8,946.1 C59.7,945.3 62.6,942.4 64.5,941.3 C66.4,940.2 69.3,939.7 70.3,939.4" stroke-width="2.9"/>
<path d="M76.0,965.3 C78.6,965.6 86.2,968.1 91.4,967.2 C96.5,966.2 100.9,962.9 106.7,959.5 C112.5,956.2 119.5,949.9 125.9,947.0 C132.3,944.2 138.7,942.4 145.1,942.2 C151.4,942.1 161.0,945.4 164.2,946.1" stroke-width="6.7"/>
<path d="M87.5,973.9 C88.8,972.9 92.6,970.1 95.2,968.1 C97.8,966.2 101.6,963.3 102.9,962.4" stroke-width="3.5"/>
<path d="M89.4,950.9 C89.8,952.5 90.7,957.6 91.4,960.5 C92.0,963.3 93.0,966.9 93.3,968.1" stroke-width="5.8"/>
<path d="M133.5,965.3 C136.3,964.6 143.9,962.2 149.8,961.4 C155.8,960.6 165.8,960.6 169.0,960.5" stroke-width="1.9"/>
<path d="M133.5,971.0 C136.7,970.9 146.3,970.2 152.7,970.1 C159.1,969.9 168.7,970.1 171.9,970.1" stroke-width="1.9"/>
<path d="M134.5,976.8 C137.5,977.1 147.1,978.4 152.7,978.7 C158.3,979.0 165.5,978.7 168.1,978.7" stroke-width="1.9"/>
<path d="M137.4,982.5 C139.5,983.0 146.0,985.1 149.8,985.4 C153.7,985.7 158.6,984.6 160.4,984.4" stroke-width="1.7"/>
</g>
<g filter="url(#soft2)" fill="none" stroke="#a6a6a6" stroke-linecap="round" stroke-linejoin="round">
<path d="M76.0,924.0 C77.9,923.4 83.1,921.3 87.5,920.2 C92.0,919.1 98.1,918.0 102.9,917.3 C107.7,916.7 114.1,916.5 116.3,916.4" stroke-width="6.7"/>
<path d="M102.9,950.9 C105.1,949.6 111.5,945.1 116.3,943.2 C121.1,941.3 129.1,940.0 131.6,939.4" stroke-width="2.5"/>
</g>
<g filter="url(#soft)" fill="none" stroke="#858585" stroke-linecap="round" stroke-linejoin="round">
<path d="M61.6,895.3 C62.8,896.9 68.2,902.0 68.4,904.9 C68.5,907.7 63.6,911.2 62.6,912.5" stroke-width="2.2"/>
<path d="M73.1,886.6 C74.3,888.9 77.1,897.0 79.9,900.1 C82.6,903.1 87.2,904.9 89.4,904.9 C91.7,904.9 92.6,900.9 93.3,900.1" stroke-width="2.2"/>
<path d="M97.1,879.0 C98.1,880.7 100.6,887.1 102.9,889.5 C105.1,891.9 109.3,892.7 110.5,893.4" stroke-width="2.2"/>
<path d="M112.5,874.2 C113.1,876.3 116.1,883.3 116.3,886.6 C116.4,890.0 113.9,893.0 113.4,894.3" stroke-width="2.2"/>
<path d="M125.9,872.3 C125.6,874.2 124.9,879.9 124.0,883.8 C123.0,887.6 120.8,893.4 120.1,895.3" stroke-width="2.2"/>
<path d="M135.5,875.1 C135.1,877.1 133.1,883.3 133.5,886.6 C134.0,890.0 137.5,893.8 138.3,895.3" stroke-width="2.2"/>
<path d="M147.9,879.9 C147.6,881.8 145.9,888.4 146.0,891.4 C146.2,894.5 148.4,897.0 148.9,898.1" stroke-width="2.2"/>
<path d="M158.5,887.6 C158.3,889.4 157.7,896.4 157.5,898.1" stroke-width="2.2"/>
<path d="M169.5,900.1 C168.6,901.5 165.1,907.3 164.2,908.7" stroke-width="2.2"/>
<path d="M175.7,918.3 C174.6,919.9 170.1,926.3 169.0,927.9" stroke-width="2.2"/>
<path d="M179.6,939.4 C177.7,939.2 170.0,938.6 168.1,938.4" stroke-width="2.2"/>
<path d="M49.2,914.4 C50.1,915.6 54.0,920.0 54.9,921.2" stroke-width="1.8"/>
<path d="M41.5,927.9 C42.8,928.2 47.9,929.5 49.2,929.8" stroke-width="1.8"/>
<path d="M40.5,941.3 C42.0,941.3 47.7,941.3 49.2,941.3" stroke-width="1.8"/>
<path d="M102.9,951.8 C106.7,950.1 119.2,943.7 125.9,941.3 C132.6,938.9 140.3,938.1 143.1,937.5" stroke-width="1.8"/>
<path d="M106.7,961.4 C109.9,959.7 119.5,953.4 125.9,950.9 C132.3,948.3 138.7,946.4 145.1,946.1 C151.4,945.8 161.0,948.5 164.2,949.0" stroke-width="1.8"/>
<path d="M83.7,972.9 C84.7,972.1 88.5,968.9 89.4,968.1" stroke-width="1.8"/>
<path d="M127.8,963.3 C128.4,965.3 130.4,971.5 131.6,974.8 C132.9,978.2 134.8,982.0 135.5,983.5" stroke-width="2.2"/>
</g>
</g>
<path d="M128.8,936.5 C128.9,935.5 131.8,933.3 133.5,932.7 C135.3,932.0 138.5,932.2 139.3,932.7 C140.1,933.1 139.5,934.6 138.3,935.5 C137.2,936.5 134.2,938.3 132.6,938.4 C131.0,938.6 128.6,937.5 128.8,936.5Z" fill="#ffffff"/>
<path d="M96.2,956.6 C96.5,955.2 98.1,951.8 99.0,951.8 C100.0,951.8 101.6,955.2 101.9,956.6 C102.2,958.1 101.7,959.8 100.9,960.5 C100.2,961.1 97.9,961.1 97.1,960.5 C96.3,959.8 95.8,958.1 96.2,956.6Z" fill="#ffffff"/>
<path d="M67.4,928.8 C67.6,927.5 68.9,926.9 69.3,927.9 C69.7,928.8 70.0,933.3 69.8,934.6 C69.5,935.9 68.3,936.5 67.9,935.5 C67.5,934.6 67.2,930.1 67.4,928.8Z" fill="#ffffff"/>
<path d="M73.1,941.3 C73.5,940.3 75.5,939.7 76.0,940.3 C76.6,941.0 76.9,944.2 76.5,945.1 C76.1,946.1 74.2,946.7 73.6,946.1 C73.1,945.4 72.7,942.2 73.1,941.3Z" fill="#ffffff"/>
<path d="M61.6,945.1 C62.0,944.2 63.6,943.7 64.0,944.2 C64.5,944.6 64.8,947.1 64.5,948.0 C64.2,948.9 62.6,949.9 62.1,949.4 C61.6,949.0 61.3,946.0 61.6,945.1Z" fill="#ffffff"/>
<path d="M113.4,917.3 C113.8,916.3 116.1,915.1 116.8,914.9 C117.4,914.8 117.8,915.5 117.4,916.6 C117.0,917.6 115.0,921.0 114.4,921.2 C113.7,921.3 113.0,918.4 113.4,917.3Z" fill="#ffffff"/>
</g>
<clipPath id="bc2"><path d="M296.3,851.7 C295.9,847.7 295.2,849.3 294.2,848.0 C293.1,846.7 291.4,844.7 290.0,843.8 C288.5,843.0 286.6,842.7 285.3,842.9 C284.1,843.1 283.1,844.0 282.4,845.2 C281.6,846.4 281.6,850.1 280.7,850.3 C279.8,850.5 278.5,847.1 277.0,846.6 C275.4,846.1 272.9,846.7 271.4,847.5 C269.9,848.4 269.4,850.7 268.2,851.7 C266.9,852.7 265.2,852.5 264.0,853.6 C262.7,854.6 262.1,857.5 260.7,858.2 C259.4,858.9 257.6,857.1 256.1,857.7 C254.6,858.4 253.2,860.4 251.9,861.9 C250.7,863.4 249.3,865.0 248.7,866.6 C248.1,868.1 249.0,870.0 248.2,871.2 C247.4,872.4 245.1,872.7 244.0,874.0 C242.9,875.2 242.3,877.1 241.7,878.6 C241.1,880.2 240.9,881.9 240.3,883.3 C239.8,884.7 238.7,885.1 238.5,887.0 C238.2,888.8 239.2,892.2 238.9,894.4 C238.7,896.6 237.2,898.4 237.1,900.0 C236.9,901.6 238.5,902.8 238.0,904.2 C237.5,905.5 235.2,906.7 234.3,908.3 C233.3,910.0 232.6,912.0 232.2,913.9 C231.9,915.8 231.7,917.8 232.0,919.5 C232.3,921.1 233.9,922.1 234.1,923.6 C234.3,925.2 232.9,927.1 232.9,928.8 C232.9,930.4 234.1,932.1 234.3,933.4 C234.4,934.7 233.0,935.6 233.8,936.6 C234.6,937.6 236.8,939.0 238.9,939.4 C241.0,939.8 244.0,938.7 246.3,939.0 C248.7,939.3 250.5,940.7 252.8,941.3 C255.2,941.8 258.0,941.7 260.3,942.2 C262.6,942.8 264.8,943.8 266.8,944.5 C268.7,945.3 271.4,945.9 271.9,946.9 C272.3,947.8 269.2,949.6 269.6,950.1 C269.9,950.6 272.8,950.5 274.2,949.6 C275.6,948.8 277.2,945.2 277.9,945.0 C278.6,944.8 278.5,947.1 278.4,948.2 C278.2,949.4 277.8,950.6 277.0,952.0 C276.1,953.4 274.2,955.4 273.3,956.6 C272.3,957.8 271.1,958.7 271.4,959.4 C271.7,960.0 273.6,960.8 275.1,960.5 C276.7,960.2 278.4,958.0 280.7,957.7 C283.0,957.4 287.5,957.4 289.0,958.6 C290.6,959.8 289.7,963.0 290.0,965.0 C290.3,966.9 290.0,969.0 290.9,970.5 C291.8,972.1 293.8,973.8 295.5,974.2 C297.2,974.7 299.7,974.1 301.1,973.3 C302.5,972.5 303.4,971.9 303.9,969.6 C304.4,967.3 303.1,961.5 304.4,959.4 C305.6,957.3 309.1,957.5 311.3,956.8 C313.6,956.0 315.8,954.8 317.8,954.9 C319.8,955.1 321.7,957.4 323.4,957.7 C325.1,958.0 326.8,957.7 328.0,956.6 C329.3,955.5 331.0,952.7 330.8,951.0 C330.7,949.3 328.4,947.9 327.1,946.4 C325.8,944.8 323.2,942.8 322.9,941.7 C322.6,940.7 323.6,940.1 325.3,940.1 C326.9,940.1 330.0,941.3 332.7,941.7 C335.3,942.2 338.4,942.7 341.0,942.7 C343.7,942.7 346.1,942.1 348.5,941.7 C350.8,941.4 353.1,941.6 355.0,940.8 C356.8,940.0 358.5,938.7 359.6,937.1 C360.7,935.6 360.8,933.4 361.5,931.5 C362.1,929.7 363.2,927.7 363.3,926.0 C363.5,924.3 362.5,922.6 362.4,921.3 C362.3,920.1 362.8,920.1 362.8,918.5 C362.8,917.0 362.6,914.2 362.4,912.0 C362.1,909.9 361.9,907.6 361.5,905.5 C361.0,903.5 359.8,901.8 359.6,900.0 C359.4,898.1 360.2,896.4 360.1,894.4 C359.9,892.4 359.2,890.1 358.7,887.9 C358.1,885.7 357.6,883.4 356.8,881.4 C356.0,879.4 355.1,877.5 354.0,875.8 C352.9,874.1 351.6,872.7 350.3,871.2 C349.1,869.7 347.8,868.0 346.6,866.6 C345.4,865.2 344.1,864.1 342.9,862.8 C341.6,861.6 340.4,860.2 339.2,859.1 C337.9,858.1 336.7,856.5 335.5,856.3 C334.2,856.2 333.0,858.7 331.7,858.2 C330.5,857.7 329.4,854.5 328.0,853.6 C326.6,852.6 324.8,852.4 323.4,852.6 C322.0,852.9 320.6,855.3 319.7,855.0 C318.8,854.6 318.8,851.3 317.8,850.3 C316.9,849.3 315.3,849.8 314.1,848.9 C312.9,848.1 311.6,845.7 310.4,845.2 C309.2,844.7 307.9,845.8 306.7,846.1 C305.4,846.4 304.2,846.3 303.0,847.1 C301.7,847.8 300.1,849.2 299.3,850.8 C298.4,852.3 298.1,852.8 297.9,856.3 C297.6,859.9 297.7,866.6 297.6,872.1 C297.5,877.7 297.4,889.8 297.2,889.8 C297.0,889.8 296.6,878.5 296.5,872.1 C296.3,865.8 296.7,855.7 296.3,851.7Z"/></clipPath>
<g filter="url(#rough)">
<g clip-path="url(#bc2)">
<path d="M296.3,851.7 C295.9,847.7 295.2,849.3 294.2,848.0 C293.1,846.7 291.4,844.7 290.0,843.8 C288.5,843.0 286.6,842.7 285.3,842.9 C284.1,843.1 283.1,844.0 282.4,845.2 C281.6,846.4 281.6,850.1 280.7,850.3 C279.8,850.5 278.5,847.1 277.0,846.6 C275.4,846.1 272.9,846.7 271.4,847.5 C269.9,848.4 269.4,850.7 268.2,851.7 C266.9,852.7 265.2,852.5 264.0,853.6 C262.7,854.6 262.1,857.5 260.7,858.2 C259.4,858.9 257.6,857.1 256.1,857.7 C254.6,858.4 253.2,860.4 251.9,861.9 C250.7,863.4 249.3,865.0 248.7,866.6 C248.1,868.1 249.0,870.0 248.2,871.2 C247.4,872.4 245.1,872.7 244.0,874.0 C242.9,875.2 242.3,877.1 241.7,878.6 C241.1,880.2 240.9,881.9 240.3,883.3 C239.8,884.7 238.7,885.1 238.5,887.0 C238.2,888.8 239.2,892.2 238.9,894.4 C238.7,896.6 237.2,898.4 237.1,900.0 C236.9,901.6 238.5,902.8 238.0,904.2 C237.5,905.5 235.2,906.7 234.3,908.3 C233.3,910.0 232.6,912.0 232.2,913.9 C231.9,915.8 231.7,917.8 232.0,919.5 C232.3,921.1 233.9,922.1 234.1,923.6 C234.3,925.2 232.9,927.1 232.9,928.8 C232.9,930.4 234.1,932.1 234.3,933.4 C234.4,934.7 233.0,935.6 233.8,936.6 C234.6,937.6 236.8,939.0 238.9,939.4 C241.0,939.8 244.0,938.7 246.3,939.0 C248.7,939.3 250.5,940.7 252.8,941.3 C255.2,941.8 258.0,941.7 260.3,942.2 C262.6,942.8 264.8,943.8 266.8,944.5 C268.7,945.3 271.4,945.9 271.9,946.9 C272.3,947.8 269.2,949.6 269.6,950.1 C269.9,950.6 272.8,950.5 274.2,949.6 C275.6,948.8 277.2,945.2 277.9,945.0 C278.6,944.8 278.5,947.1 278.4,948.2 C278.2,949.4 277.8,950.6 277.0,952.0 C276.1,953.4 274.2,955.4 273.3,956.6 C272.3,957.8 271.1,958.7 271.4,959.4 C271.7,960.0 273.6,960.8 275.1,960.5 C276.7,960.2 278.4,958.0 280.7,957.7 C283.0,957.4 287.5,957.4 289.0,958.6 C290.6,959.8 289.7,963.0 290.0,965.0 C290.3,966.9 290.0,969.0 290.9,970.5 C291.8,972.1 293.8,973.8 295.5,974.2 C297.2,974.7 299.7,974.1 301.1,973.3 C302.5,972.5 303.4,971.9 303.9,969.6 C304.4,967.3 303.1,961.5 304.4,959.4 C305.6,957.3 309.1,957.5 311.3,956.8 C313.6,956.0 315.8,954.8 317.8,954.9 C319.8,955.1 321.7,957.4 323.4,957.7 C325.1,958.0 326.8,957.7 328.0,956.6 C329.3,955.5 331.0,952.7 330.8,951.0 C330.7,949.3 328.4,947.9 327.1,946.4 C325.8,944.8 323.2,942.8 322.9,941.7 C322.6,940.7 323.6,940.1 325.3,940.1 C326.9,940.1 330.0,941.3 332.7,941.7 C335.3,942.2 338.4,942.7 341.0,942.7 C343.7,942.7 346.1,942.1 348.5,941.7 C350.8,941.4 353.1,941.6 355.0,940.8 C356.8,940.0 358.5,938.7 359.6,937.1 C360.7,935.6 360.8,933.4 361.5,931.5 C362.1,929.7 363.2,927.7 363.3,926.0 C363.5,924.3 362.5,922.6 362.4,921.3 C362.3,920.1 362.8,920.1 362.8,918.5 C362.8,917.0 362.6,914.2 362.4,912.0 C362.1,909.9 361.9,907.6 361.5,905.5 C361.0,903.5 359.8,901.8 359.6,900.0 C359.4,898.1 360.2,896.4 360.1,894.4 C359.9,892.4 359.2,890.1 358.7,887.9 C358.1,885.7 357.6,883.4 356.8,881.4 C356.0,879.4 355.1,877.5 354.0,875.8 C352.9,874.1 351.6,872.7 350.3,871.2 C349.1,869.7 347.8,868.0 346.6,866.6 C345.4,865.2 344.1,864.1 342.9,862.8 C341.6,861.6 340.4,860.2 339.2,859.1 C337.9,858.1 336.7,856.5 335.5,856.3 C334.2,856.2 333.0,858.7 331.7,858.2 C330.5,857.7 329.4,854.5 328.0,853.6 C326.6,852.6 324.8,852.4 323.4,852.6 C322.0,852.9 320.6,855.3 319.7,855.0 C318.8,854.6 318.8,851.3 317.8,850.3 C316.9,849.3 315.3,849.8 314.1,848.9 C312.9,848.1 311.6,845.7 310.4,845.2 C309.2,844.7 307.9,845.8 306.7,846.1 C305.4,846.4 304.2,846.3 303.0,847.1 C301.7,847.8 300.1,849.2 299.3,850.8 C298.4,852.3 298.1,852.8 297.9,856.3 C297.6,859.9 297.7,866.6 297.6,872.1 C297.5,877.7 297.4,889.8 297.2,889.8 C297.0,889.8 296.6,878.5 296.5,872.1 C296.3,865.8 296.7,855.7 296.3,851.7Z" fill="#b2b2b2"/>
<g filter="url(#soft2)" fill="none" stroke="#dbdbdb" stroke-linecap="round" stroke-linejoin="round">
<path d="M264.0,894.4 C264.9,896.9 269.6,904.6 269.6,909.3 C269.6,913.9 264.9,920.1 264.0,922.3" stroke-width="21.3"/>
<path d="M329.9,894.4 C329.3,896.9 325.9,904.6 326.2,909.3 C326.5,913.9 330.8,920.1 331.7,922.3" stroke-width="21.3"/>
<path d="M273.3,887.0 C275.4,887.4 282.2,889.1 286.3,889.8 C290.3,890.4 293.7,890.7 297.4,890.7 C301.1,890.7 304.5,890.4 308.5,889.8 C312.6,889.1 319.4,887.4 321.5,887.0" stroke-width="5.6"/>
<path d="M288.1,900.0 C289.7,900.0 294.3,900.0 297.4,900.0 C300.5,900.0 305.1,900.0 306.7,900.0" stroke-width="16.7"/>
<path d="M277.0,887.0 C278.2,884.2 282.7,876.2 284.4,870.3 C286.1,864.4 286.7,854.8 287.2,851.7" stroke-width="5.6"/>
<path d="M269.6,883.3 C270.2,880.8 272.6,873.2 273.3,868.4 C273.9,863.6 273.3,856.8 273.3,854.5" stroke-width="5.2"/>
<path d="M262.1,883.3 C262.1,881.4 262.9,875.4 262.1,872.1 C261.4,868.9 258.3,865.2 257.5,863.8" stroke-width="4.6"/>
<path d="M256.6,890.7 C255.5,889.5 251.9,885.1 250.1,883.3 C248.2,881.4 246.2,880.2 245.4,879.6" stroke-width="4.3"/>
<path d="M252.8,900.0 C251.6,899.4 247.4,897.2 245.4,896.3 C243.4,895.3 241.6,894.7 240.8,894.4" stroke-width="4.1"/>
<path d="M255.6,916.7 C253.9,917.5 248.5,920.1 245.4,921.3 C242.3,922.6 238.5,923.6 237.1,924.1" stroke-width="4.6"/>
<path d="M260.3,926.0 C258.7,927.1 254.1,930.9 251.0,932.5 C247.9,934.0 243.3,934.8 241.7,935.3" stroke-width="4.3"/>
<path d="M267.7,927.8 C267.1,929.2 264.9,934.2 264.0,936.2 C263.1,938.2 262.4,939.3 262.1,939.9" stroke-width="4.3"/>
<path d="M275.1,924.1 C275.7,925.5 278.1,930.3 278.8,932.5 C279.6,934.6 279.6,936.3 279.8,937.1" stroke-width="4.6"/>
<path d="M317.8,887.0 C316.6,884.2 312.3,875.8 310.4,870.3 C308.5,864.7 307.3,856.3 306.7,853.6" stroke-width="5.6"/>
<path d="M324.3,883.3 C324.0,880.8 322.6,872.6 322.5,868.4 C322.3,864.2 323.2,859.9 323.4,858.2" stroke-width="5.2"/>
<path d="M331.7,883.3 C332.2,881.4 333.6,875.4 334.5,872.1 C335.5,868.9 336.9,865.2 337.3,863.8" stroke-width="4.6"/>
<path d="M338.2,890.7 C339.5,889.1 343.7,883.7 345.7,881.4 C347.7,879.1 349.5,877.5 350.3,876.8" stroke-width="4.3"/>
<path d="M342.0,900.0 C343.5,899.0 348.8,895.6 351.2,894.4 C353.7,893.2 355.9,892.9 356.8,892.6" stroke-width="3.7"/>
<path d="M339.2,914.8 C340.9,914.4 346.1,913.1 349.4,912.0 C352.6,911.0 357.1,909.0 358.7,908.3" stroke-width="4.3"/>
<path d="M336.4,924.1 C338.2,925.0 344.0,928.8 347.5,929.7 C351.1,930.6 356.0,929.7 357.7,929.7" stroke-width="4.3"/>
<path d="M328.0,927.8 C329.3,929.1 333.5,933.4 335.5,935.3 C337.5,937.1 339.3,938.3 340.1,939.0" stroke-width="4.3"/>
<path d="M318.8,924.1 C318.6,925.3 317.8,929.7 317.8,931.5 C317.8,933.4 318.6,934.6 318.8,935.3" stroke-width="4.3"/>
<path d="M297.4,926.0 C297.4,930.1 297.4,943.9 297.4,951.0 C297.4,958.1 297.4,965.7 297.4,968.7" stroke-width="13.9"/>
<path d="M284.4,951.0 C286.6,950.7 292.9,949.3 297.4,949.2 C301.9,949.0 309.0,949.9 311.3,950.1" stroke-width="10.2"/>
</g>
<g filter="url(#soft2)" fill="none" stroke="#a9a9a9" stroke-linecap="round" stroke-linejoin="round">
<path d="M268.6,900.0 C269.1,901.2 270.9,906.2 271.4,907.4" stroke-width="5.6"/>
<path d="M323.4,900.0 C323.1,901.2 321.8,906.2 321.5,907.4" stroke-width="5.6"/>
<path d="M314.1,944.5 C316.0,945.8 323.4,950.7 325.3,952.0" stroke-width="4.6"/>
</g>
<g filter="url(#soft)" fill="none" stroke="#888888" stroke-linecap="round" stroke-linejoin="round">
<path d="M280.7,850.8 C280.6,852.8 280.1,860.8 280.0,862.8" stroke-width="1.7"/>
<path d="M268.6,856.3 C269.1,857.6 270.9,862.5 271.4,863.8" stroke-width="3.0"/>
<path d="M260.7,858.7 C261.0,859.8 262.4,862.8 262.1,865.6 C261.8,868.5 258.9,873.2 258.9,875.8 C258.9,878.5 261.6,880.5 262.1,881.4" stroke-width="3.5"/>
<path d="M248.7,867.0 C249.4,868.2 250.9,871.3 252.8,874.0 C254.8,876.7 259.0,881.7 260.3,883.3" stroke-width="2.6"/>
<path d="M241.7,879.1 C242.9,880.4 247.9,885.7 249.1,887.0" stroke-width="2.0"/>
<path d="M238.9,894.4 C240.5,894.7 245.4,895.5 248.2,896.3 C251.0,897.0 254.4,898.6 255.6,899.0" stroke-width="1.4"/>
<path d="M234.3,908.8 C235.8,909.6 240.5,912.3 243.6,913.9 C246.7,915.5 251.3,917.8 252.8,918.5" stroke-width="4.6"/>
<path d="M232.9,928.8 C234.7,928.6 240.5,927.4 243.6,927.8 C246.6,928.3 249.8,930.9 251.0,931.5" stroke-width="2.0"/>
<path d="M252.8,941.3 C253.3,940.3 254.4,936.7 255.6,935.3 C256.9,933.8 259.5,932.9 260.3,932.5" stroke-width="1.9"/>
<path d="M266.8,944.5 C266.5,943.3 264.8,939.3 264.9,937.1 C265.1,934.9 267.2,932.5 267.7,931.5" stroke-width="1.9"/>
<path d="M282.6,878.6 C283.8,877.9 288.0,875.4 290.0,874.0 C291.9,872.6 293.5,870.9 294.2,870.3" stroke-width="3.0"/>
<path d="M289.0,888.4 C290.4,888.7 294.6,890.5 297.4,890.5 C300.2,890.5 304.4,888.7 305.8,888.4" stroke-width="1.4"/>
<path d="M310.4,845.7 C310.6,847.8 311.6,854.9 311.3,858.2 C311.0,861.5 309.0,864.4 308.5,865.6" stroke-width="1.9"/>
<path d="M319.7,855.4 C319.4,857.1 319.1,862.8 317.8,865.6 C316.6,868.4 313.7,870.3 312.3,872.1 C310.8,874.0 309.5,876.0 309.0,876.8" stroke-width="3.9"/>
<path d="M331.7,858.7 C331.3,860.1 329.7,864.0 329.0,867.5 C328.2,871.0 326.5,876.9 327.1,879.6 C327.7,882.2 331.7,882.6 332.7,883.3" stroke-width="3.2"/>
<path d="M346.6,867.0 C345.7,868.3 343.0,872.5 341.0,874.9 C339.0,877.3 335.6,880.3 334.5,881.4" stroke-width="2.6"/>
<path d="M356.8,881.9 C355.7,882.7 351.9,885.7 350.3,887.0 C348.8,888.3 348.0,889.3 347.5,889.8" stroke-width="1.9"/>
<path d="M360.1,894.9 C359.1,895.6 355.0,898.4 354.0,899.0" stroke-width="1.4"/>
<path d="M362.4,912.0 C361.1,912.8 358.5,915.6 355.0,916.7 C351.4,917.8 343.8,917.3 341.0,918.5 C338.2,919.8 338.7,923.2 338.2,924.1" stroke-width="4.2"/>
<path d="M361.5,931.5 C360.1,930.9 355.7,927.7 353.1,927.8 C350.5,928.0 346.9,931.7 345.7,932.5" stroke-width="2.0"/>
<path d="M348.5,941.7 C348.0,940.7 346.1,936.3 345.7,935.3" stroke-width="1.9"/>
<path d="M332.7,941.7 C332.5,940.8 332.7,937.7 331.7,936.2 C330.8,934.6 327.9,933.1 327.1,932.5" stroke-width="1.9"/>
<path d="M296.9,853.6 C297.0,859.6 297.2,883.7 297.2,889.8" stroke-width="0.9"/>
<path d="M297.4,924.1 C297.4,925.7 297.6,931.8 297.7,933.4" stroke-width="0.9"/>
</g>
</g>
<path d="M277.0,892.6 C277.8,891.2 279.5,890.8 280.7,891.2 C281.9,891.5 283.4,893.1 284.4,894.4 C285.4,895.7 286.6,897.5 286.7,899.0 C286.9,900.6 286.2,903.0 285.3,903.7 C284.5,904.4 282.6,902.9 281.6,903.2 C280.7,903.5 280.6,905.3 279.8,905.5 C278.9,905.8 277.2,905.7 276.5,904.6 C275.8,903.5 275.5,901.1 275.6,899.0 C275.7,897.0 276.1,893.9 277.0,892.6Z" fill="#ffffff"/>
<path d="M309.0,894.4 C309.9,893.2 311.9,892.2 313.2,892.1 C314.5,891.9 316.0,892.3 316.9,893.5 C317.7,894.6 318.2,897.3 318.3,899.0 C318.4,900.8 318.1,903.4 317.4,904.2 C316.7,904.9 315.0,903.5 314.1,903.7 C313.3,903.8 313.0,905.2 312.3,905.1 C311.5,904.9 310.2,903.8 309.5,902.8 C308.7,901.8 307.7,900.4 307.6,899.0 C307.5,897.7 308.1,895.6 309.0,894.4Z" fill="#ffffff"/>
<path d="M290.0,909.3 C291.0,908.3 295.0,908.9 297.4,908.9 C299.8,908.9 303.4,908.3 304.4,909.3 C305.3,910.2 302.2,912.7 303.0,914.8 C303.7,917.0 308.7,920.8 309.0,922.3 C309.3,923.7 305.9,923.7 304.8,923.6 C303.7,923.6 303.7,922.2 302.5,921.8 C301.3,921.4 299.2,921.2 297.4,921.3 C295.6,921.4 293.2,921.9 291.8,922.3 C290.4,922.6 290.3,923.6 289.0,923.6 C287.8,923.7 284.0,924.2 284.4,922.7 C284.8,921.2 290.4,917.1 291.4,914.8 C292.3,912.6 289.0,910.2 290.0,909.3Z" fill="#ffffff"/>
<path d="M285.2,924.3 C286.1,922.6 289.5,921.5 290.2,923.4 C290.8,925.2 290.1,932.3 289.2,935.3 C288.4,938.2 286.5,939.0 284.9,940.8 C283.2,942.6 280.4,945.5 279.3,945.9 C278.2,946.4 277.5,944.5 278.1,943.4 C278.7,942.4 281.7,941.4 282.7,939.7 C283.8,938.0 284.0,936.0 284.4,933.4 C284.8,930.8 284.2,926.0 285.2,924.3Z" fill="#ffffff"/>
<path d="M304.6,923.4 C305.0,921.9 307.8,923.8 308.5,924.6 C309.3,925.4 308.1,926.5 309.0,928.3 C309.9,930.1 312.6,933.8 314.1,935.4 C315.6,937.1 316.5,937.2 317.8,938.2 C319.1,939.3 320.6,940.5 322.0,941.7 C323.4,943.0 326.3,945.5 326.2,945.9 C326.1,946.3 323.1,945.2 321.5,944.1 C320.0,942.9 318.6,940.1 316.9,939.0 C315.2,937.8 313.0,938.0 311.3,937.1 C309.6,936.2 307.8,935.7 306.7,933.4 C305.6,931.1 304.3,924.8 304.6,923.4Z" fill="#ffffff"/>
<path d="M335.5,906.5 C336.7,905.4 340.8,902.9 343.8,901.4 C346.8,899.9 351.8,897.8 353.6,897.4 C355.3,897.0 355.7,898.1 354.2,899.0 C352.7,900.0 347.7,901.8 344.7,903.2 C341.8,904.7 337.9,907.3 336.4,907.9 C334.8,908.4 334.2,907.6 335.5,906.5Z" fill="#ffffff"/>
<path d="M258.0,908.3 C258.6,906.9 262.4,901.6 263.5,900.4 C264.7,899.3 265.4,899.9 264.7,901.4 C264.0,902.8 260.5,908.1 259.3,909.3 C258.2,910.4 257.3,909.8 258.0,908.3Z" fill="#ffffff"/>
<path d="M241.2,912.0 C241.4,911.7 242.4,911.3 242.6,911.6 C242.9,911.8 243.0,913.1 242.8,913.4 C242.6,913.8 241.8,913.9 241.5,913.7 C241.3,913.5 241.1,912.4 241.2,912.0Z" fill="#ffffff"/>
<path d="M351.7,887.9 C352.0,887.6 353.2,887.3 353.6,887.4 C353.9,887.6 354.1,888.7 353.8,889.0 C353.6,889.3 352.3,889.6 352.0,889.4 C351.6,889.2 351.4,888.2 351.7,887.9Z" fill="#ffffff"/>
<path d="M296.9,930.6 C297.0,930.1 297.8,929.8 298.1,930.1 C298.5,930.5 298.9,932.4 298.8,932.9 C298.7,933.4 297.9,933.6 297.6,933.2 C297.3,932.8 296.8,931.1 296.9,930.6Z" fill="#ffffff"/>
<path d="M320.1,953.4 C320.5,952.8 322.7,951.6 323.4,951.5 C324.1,951.4 324.5,952.3 324.1,952.9 C323.7,953.4 321.7,954.7 321.1,954.7 C320.4,954.8 319.8,953.9 320.1,953.4Z" fill="#ffffff"/>
</g>
<line x1="80.0" y1="931.7" x2="244.3" y2="904.3" stroke="#0a9b4a" stroke-width="4" stroke-linecap="butt"/>
<circle cx="80" cy="931.7" r="3.3" fill="#e60012"/><circle cx="244.3" cy="904.3" r="3.3" fill="#e60012"/>
<clipPath id="bc3"><path d="M913.5,930.8 C913.7,929.1 915.0,927.5 916.0,925.8 C917.0,924.1 918.7,922.7 919.4,920.7 C920.0,918.7 919.2,915.9 919.8,913.9 C920.4,911.9 921.8,910.2 923.2,908.8 C924.5,907.5 926.2,906.2 927.8,905.9 C929.5,905.5 931.6,907.1 932.9,906.7 C934.3,906.4 935.3,905.0 935.9,903.8 C936.4,902.6 935.5,900.9 936.3,899.5 C937.1,898.1 939.1,896.1 940.5,895.3 C941.9,894.5 943.6,894.3 944.8,894.9 C945.9,895.4 946.0,897.9 947.3,898.7 C948.6,899.5 950.8,899.7 952.4,899.5 C953.9,899.4 955.7,898.8 956.6,897.8 C957.5,896.9 956.7,894.5 957.9,893.6 C959.0,892.8 961.8,893.6 963.4,892.8 C965.0,891.9 966.1,889.4 967.6,888.5 C969.2,887.7 971.1,887.2 972.7,887.7 C974.2,888.2 975.6,891.5 976.9,891.5 C978.2,891.5 979.0,888.9 980.3,887.7 C981.6,886.5 983.0,884.6 984.5,884.3 C986.1,884.0 988.1,886.0 989.6,886.0 C991.2,886.0 992.3,884.7 993.8,884.3 C995.4,883.9 997.2,883.2 998.9,883.5 C1000.6,883.7 1002.2,885.1 1004.0,885.6 C1005.8,886.1 1008.5,885.4 1009.9,886.4 C1011.3,887.5 1011.2,890.9 1012.4,891.9 C1013.7,893.0 1015.8,892.1 1017.5,892.8 C1019.2,893.5 1021.3,894.6 1022.6,896.2 C1023.9,897.7 1024.4,900.0 1025.1,902.1 C1025.8,904.2 1025.8,907.0 1026.8,908.8 C1027.8,910.7 1029.8,911.4 1031.1,913.1 C1032.3,914.8 1033.7,916.9 1034.4,919.0 C1035.2,921.1 1035.3,923.5 1035.7,925.8 C1036.1,928.0 1036.2,930.3 1037.0,932.5 C1037.8,934.8 1039.4,936.9 1040.4,939.3 C1041.3,941.7 1041.9,944.2 1042.5,946.9 C1043.0,949.6 1043.8,953.3 1043.7,955.4 C1043.7,957.5 1042.2,957.8 1042.1,959.6 C1041.9,961.4 1043.0,964.3 1042.9,966.4 C1042.8,968.5 1042.1,970.6 1041.2,972.3 C1040.4,974.0 1038.8,975.0 1037.8,976.5 C1036.8,978.1 1036.6,980.2 1035.3,981.6 C1034.0,983.0 1031.9,984.3 1030.2,985.0 C1028.5,985.7 1026.7,986.0 1025.1,985.8 C1023.6,985.7 1022.5,984.7 1020.9,984.1 C1019.4,983.6 1017.5,982.4 1015.8,982.4 C1014.1,982.4 1012.6,983.9 1010.8,984.1 C1008.9,984.4 1006.5,983.6 1004.8,984.1 C1003.1,984.7 1002.3,986.8 1000.6,987.5 C998.9,988.2 996.5,988.4 994.7,988.4 C992.8,988.4 991.3,987.1 989.6,987.5 C987.9,987.9 986.2,990.1 984.5,990.9 C982.8,991.8 981.1,992.5 979.5,992.6 C977.8,992.7 976.1,992.2 974.4,991.8 C972.7,991.3 971.0,990.2 969.3,990.1 C967.6,989.9 965.8,990.3 964.2,990.9 C962.7,991.5 961.4,992.7 960.0,993.4 C958.6,994.1 957.3,994.7 955.8,995.1 C954.2,995.6 952.1,996.3 950.7,996.0 C949.3,995.7 948.1,994.7 947.3,993.4 C946.5,992.2 946.1,990.2 945.6,988.4 C945.1,986.5 944.3,984.4 944.3,982.4 C944.3,980.5 944.8,978.1 945.6,976.5 C946.4,975.0 947.4,973.8 949.0,973.1 C950.5,972.4 953.8,973.1 954.9,972.3 C956.0,971.4 956.2,969.5 955.8,968.1 C955.3,966.7 953.8,964.1 952.4,963.8 C951.0,963.6 949.0,965.5 947.3,966.4 C945.6,967.2 943.7,969.3 942.2,968.9 C940.7,968.5 938.6,965.2 938.4,963.8 C938.3,962.4 940.3,961.9 941.4,960.4 C942.4,959.0 944.1,957.5 944.8,955.4 C945.5,953.3 946.3,948.9 945.6,947.8 C944.9,946.6 942.5,948.7 940.5,948.6 C938.6,948.5 935.5,947.9 933.8,946.9 C932.1,945.9 931.5,943.5 930.4,942.7 C929.3,941.8 928.4,941.4 927.0,941.8 C925.6,942.3 923.8,944.8 921.9,945.2 C920.1,945.6 916.6,945.4 916.0,944.4 C915.4,943.4 918.8,940.7 918.5,939.3 C918.3,937.9 915.2,937.3 914.3,935.9 C913.5,934.5 913.2,932.5 913.5,930.8Z"/></clipPath>
<g filter="url(#rough)">
<g clip-path="url(#bc3)">
<path d="M913.5,930.8 C913.7,929.1 915.0,927.5 916.0,925.8 C917.0,924.1 918.7,922.7 919.4,920.7 C920.0,918.7 919.2,915.9 919.8,913.9 C920.4,911.9 921.8,910.2 923.2,908.8 C924.5,907.5 926.2,906.2 927.8,905.9 C929.5,905.5 931.6,907.1 932.9,906.7 C934.3,906.4 935.3,905.0 935.9,903.8 C936.4,902.6 935.5,900.9 936.3,899.5 C937.1,898.1 939.1,896.1 940.5,895.3 C941.9,894.5 943.6,894.3 944.8,894.9 C945.9,895.4 946.0,897.9 947.3,898.7 C948.6,899.5 950.8,899.7 952.4,899.5 C953.9,899.4 955.7,898.8 956.6,897.8 C957.5,896.9 956.7,894.5 957.9,893.6 C959.0,892.8 961.8,893.6 963.4,892.8 C965.0,891.9 966.1,889.4 967.6,888.5 C969.2,887.7 971.1,887.2 972.7,887.7 C974.2,888.2 975.6,891.5 976.9,891.5 C978.2,891.5 979.0,888.9 980.3,887.7 C981.6,886.5 983.0,884.6 984.5,884.3 C986.1,884.0 988.1,886.0 989.6,886.0 C991.2,886.0 992.3,884.7 993.8,884.3 C995.4,883.9 997.2,883.2 998.9,883.5 C1000.6,883.7 1002.2,885.1 1004.0,885.6 C1005.8,886.1 1008.5,885.4 1009.9,886.4 C1011.3,887.5 1011.2,890.9 1012.4,891.9 C1013.7,893.0 1015.8,892.1 1017.5,892.8 C1019.2,893.5 1021.3,894.6 1022.6,896.2 C1023.9,897.7 1024.4,900.0 1025.1,902.1 C1025.8,904.2 1025.8,907.0 1026.8,908.8 C1027.8,910.7 1029.8,911.4 1031.1,913.1 C1032.3,914.8 1033.7,916.9 1034.4,919.0 C1035.2,921.1 1035.3,923.5 1035.7,925.8 C1036.1,928.0 1036.2,930.3 1037.0,932.5 C1037.8,934.8 1039.4,936.9 1040.4,939.3 C1041.3,941.7 1041.9,944.2 1042.5,946.9 C1043.0,949.6 1043.8,953.3 1043.7,955.4 C1043.7,957.5 1042.2,957.8 1042.1,959.6 C1041.9,961.4 1043.0,964.3 1042.9,966.4 C1042.8,968.5 1042.1,970.6 1041.2,972.3 C1040.4,974.0 1038.8,975.0 1037.8,976.5 C1036.8,978.1 1036.6,980.2 1035.3,981.6 C1034.0,983.0 1031.9,984.3 1030.2,985.0 C1028.5,985.7 1026.7,986.0 1025.1,985.8 C1023.6,985.7 1022.5,984.7 1020.9,984.1 C1019.4,983.6 1017.5,982.4 1015.8,982.4 C1014.1,982.4 1012.6,983.9 1010.8,984.1 C1008.9,984.4 1006.5,983.6 1004.8,984.1 C1003.1,984.7 1002.3,986.8 1000.6,987.5 C998.9,988.2 996.5,988.4 994.7,988.4 C992.8,988.4 991.3,987.1 989.6,987.5 C987.9,987.9 986.2,990.1 984.5,990.9 C982.8,991.8 981.1,992.5 979.5,992.6 C977.8,992.7 976.1,992.2 974.4,991.8 C972.7,991.3 971.0,990.2 969.3,990.1 C967.6,989.9 965.8,990.3 964.2,990.9 C962.7,991.5 961.4,992.7 960.0,993.4 C958.6,994.1 957.3,994.7 955.8,995.1 C954.2,995.6 952.1,996.3 950.7,996.0 C949.3,995.7 948.1,994.7 947.3,993.4 C946.5,992.2 946.1,990.2 945.6,988.4 C945.1,986.5 944.3,984.4 944.3,982.4 C944.3,980.5 944.8,978.1 945.6,976.5 C946.4,975.0 947.4,973.8 949.0,973.1 C950.5,972.4 953.8,973.1 954.9,972.3 C956.0,971.4 956.2,969.5 955.8,968.1 C955.3,966.7 953.8,964.1 952.4,963.8 C951.0,963.6 949.0,965.5 947.3,966.4 C945.6,967.2 943.7,969.3 942.2,968.9 C940.7,968.5 938.6,965.2 938.4,963.8 C938.3,962.4 940.3,961.9 941.4,960.4 C942.4,959.0 944.1,957.5 944.8,955.4 C945.5,953.3 946.3,948.9 945.6,947.8 C944.9,946.6 942.5,948.7 940.5,948.6 C938.6,948.5 935.5,947.9 933.8,946.9 C932.1,945.9 931.5,943.5 930.4,942.7 C929.3,941.8 928.4,941.4 927.0,941.8 C925.6,942.3 923.8,944.8 921.9,945.2 C920.1,945.6 916.6,945.4 916.0,944.4 C915.4,943.4 918.8,940.7 918.5,939.3 C918.3,937.9 915.2,937.3 914.3,935.9 C913.5,934.5 913.2,932.5 913.5,930.8Z" fill="#a5a5a5"/>
<g filter="url(#soft2)" fill="none" stroke="#d3d3d3" stroke-linecap="round" stroke-linejoin="round">
<path d="M924.5,935.9 C924.0,934.2 922.1,929.1 921.9,925.8 C921.7,922.4 921.9,918.0 923.2,915.6 C924.5,913.2 927.6,911.4 929.5,911.4 C931.4,911.4 933.9,913.5 934.6,915.6 C935.3,917.7 934.3,921.2 933.8,924.1 C933.2,926.9 931.6,931.1 931.2,932.5" stroke-width="4.7"/>
<path d="M940.5,942.7 C940.8,941.3 941.7,937.0 942.2,934.2 C942.8,931.4 943.8,929.7 943.9,925.8 C944.1,921.8 943.2,914.5 943.1,910.5 C942.9,906.6 943.1,903.5 943.1,902.1" stroke-width="4.7"/>
<path d="M952.4,951.1 C952.9,949.5 954.6,944.5 955.8,941.0 C956.9,937.5 958.0,933.7 959.1,930.0 C960.3,926.3 961.7,922.5 962.5,919.0 C963.4,915.5 963.1,912.2 964.2,908.8 C965.3,905.5 968.0,901.4 969.3,898.7 C970.6,896.0 971.4,893.8 971.8,892.8" stroke-width="4.9"/>
<path d="M964.2,922.4 C965.3,922.9 969.2,926.3 971.0,925.8 C972.8,925.2 974.2,921.5 975.2,919.0 C976.2,916.5 976.5,913.6 976.9,910.5 C977.3,907.4 977.6,902.1 977.8,900.4" stroke-width="4.4"/>
<path d="M985.4,890.2 C985.8,891.9 987.2,897.0 987.9,900.4 C988.6,903.8 989.9,905.7 989.6,910.5 C989.3,915.3 986.8,926.0 986.2,929.1" stroke-width="4.9"/>
<path d="M993.0,896.2 C994.5,895.9 998.9,894.3 1002.3,894.5 C1005.7,894.6 1010.6,895.6 1013.3,897.0 C1016.0,898.4 1018.1,900.7 1018.4,902.9 C1018.6,905.2 1017.2,909.0 1015.0,910.5 C1012.7,912.1 1007.9,912.5 1004.8,912.2 C1001.7,911.9 997.8,909.4 996.4,908.8" stroke-width="4.9"/>
<path d="M964.2,947.8 C965.6,946.9 969.9,943.1 972.7,942.7 C975.5,942.3 978.3,945.8 981.1,945.2 C984.0,944.7 987.1,941.7 989.6,939.3 C992.1,936.9 993.8,932.8 996.4,930.8 C998.9,928.9 1002.3,927.2 1004.8,927.5 C1007.4,927.7 1009.3,932.2 1011.6,932.5 C1013.9,932.8 1015.8,930.8 1018.4,929.1 C1020.9,927.5 1025.4,923.5 1026.8,922.4" stroke-width="4.9"/>
<path d="M959.1,958.8 C960.4,957.9 964.2,954.9 966.8,953.7 C969.3,952.4 971.7,951.1 974.4,951.1 C977.1,951.1 980.0,952.3 982.8,953.7 C985.7,955.1 988.8,959.2 991.3,959.6 C993.8,960.0 996.5,958.2 998.1,956.2 C999.6,954.2 999.2,950.0 1000.6,947.8 C1002.0,945.5 1003.8,943.7 1006.5,942.7 C1009.2,941.7 1013.3,942.7 1016.7,941.8 C1020.1,941.0 1023.7,938.0 1026.8,937.6 C1029.9,937.2 1033.9,939.0 1035.3,939.3" stroke-width="4.9"/>
<path d="M965.9,972.3 C967.0,971.3 970.1,967.6 972.7,966.4 C975.2,965.1 978.6,964.4 981.1,964.7 C983.7,965.0 985.4,967.8 987.9,968.1 C990.4,968.3 993.6,967.2 996.4,966.4 C999.2,965.5 1002.0,965.0 1004.8,963.0 C1007.7,961.0 1010.2,956.5 1013.3,954.5 C1016.4,952.6 1020.1,952.0 1023.4,951.1 C1026.8,950.3 1030.8,949.5 1033.6,949.5 C1036.4,949.5 1039.2,950.9 1040.4,951.1" stroke-width="4.9"/>
<path d="M950.7,985.0 C951.5,983.9 953.5,979.6 955.8,978.2 C958.0,976.8 961.4,976.1 964.2,976.5 C967.0,976.9 969.9,980.3 972.7,980.8 C975.5,981.2 978.3,979.8 981.1,979.1 C984.0,978.4 986.8,977.2 989.6,976.5 C992.4,975.8 995.2,976.0 998.1,974.8 C1000.9,973.7 1003.4,971.2 1006.5,969.8 C1009.6,968.3 1013.3,966.7 1016.7,966.4 C1020.1,966.1 1023.4,968.3 1026.8,968.1 C1030.2,967.8 1035.3,965.2 1037.0,964.7" stroke-width="4.9"/>
<path d="M957.5,990.9 C958.9,990.1 962.7,986.4 965.9,985.8 C969.2,985.3 973.5,987.8 976.9,987.5 C980.3,987.2 983.0,985.0 986.2,984.1 C989.5,983.3 993.0,983.4 996.4,982.4 C999.8,981.5 1003.1,979.2 1006.5,978.2 C1009.9,977.2 1013.2,976.4 1016.7,976.5 C1020.2,976.7 1024.6,979.3 1027.7,979.1 C1030.8,978.8 1034.0,975.5 1035.3,974.8" stroke-width="4.4"/>
<path d="M942.2,964.7 C943.1,963.8 945.6,961.0 947.3,959.6 C949.0,958.2 951.5,956.8 952.4,956.2" stroke-width="3.7"/>
</g>
</g>
<path d="M927.2,917.3 C927.5,915.6 928.8,915.6 929.1,917.3 C929.4,919.0 929.4,925.8 929.1,927.5 C928.8,929.1 927.5,929.1 927.2,927.5 C926.8,925.8 926.8,919.0 927.2,917.3Z" fill="#ffffff"/>
<path d="M947.7,922.4 C948.0,920.1 949.1,920.1 949.4,922.4 C949.7,924.6 949.7,933.7 949.4,935.9 C949.1,938.2 948.0,938.2 947.7,935.9 C947.4,933.7 947.4,924.6 947.7,922.4Z" fill="#ffffff"/>
<path d="M936.3,929.1 C936.5,928.2 938.2,925.5 938.8,924.9 C939.5,924.4 940.3,924.8 940.1,925.8 C939.9,926.7 938.2,929.9 937.6,930.4 C936.9,931.0 936.1,930.1 936.3,929.1Z" fill="#ffffff"/>
<path d="M979.5,899.5 C979.7,898.5 981.5,899.1 982.0,900.4 C982.5,901.6 982.7,906.2 982.4,907.1 C982.1,908.1 980.8,907.6 980.3,906.3 C979.8,905.0 979.2,900.5 979.5,899.5Z" fill="#ffffff"/>
<path d="M980.3,922.4 C980.6,920.4 981.8,918.4 982.4,917.3 C983.0,916.2 984.1,913.9 984.1,915.6 C984.1,917.3 983.0,925.2 982.4,927.5 C981.8,929.7 980.8,930.0 980.5,929.1 C980.1,928.3 980.0,924.4 980.3,922.4Z" fill="#ffffff"/>
<path d="M980.7,934.2 C981.1,933.1 983.1,932.5 983.7,933.4 C984.2,934.2 984.5,938.2 984.1,939.3 C983.7,940.4 981.7,941.0 981.1,940.1 C980.6,939.3 980.3,935.3 980.7,934.2Z" fill="#ffffff"/>
<path d="M992.6,947.8 C992.8,946.6 994.3,945.5 994.7,946.1 C995.1,946.6 995.4,950.0 995.1,951.1 C994.8,952.3 993.4,953.4 993.0,952.8 C992.6,952.3 992.3,948.9 992.6,947.8Z" fill="#ffffff"/>
<path d="M995.5,939.3 C995.9,938.3 998.1,936.3 998.9,935.9 C999.8,935.6 1001.0,936.2 1000.6,937.2 C1000.2,938.2 997.6,941.5 996.8,941.8 C995.9,942.2 995.2,940.3 995.5,939.3Z" fill="#ffffff"/>
<path d="M965.1,959.2 C966.2,958.9 970.7,958.9 971.8,959.2 C973.0,959.5 973.0,960.6 971.8,960.9 C970.7,961.2 966.2,961.2 965.1,960.9 C963.9,960.6 963.9,959.5 965.1,959.2Z" fill="#ffffff"/>
<path d="M982.0,971.4 C982.3,970.9 984.0,970.9 984.5,971.4 C985.0,972.0 985.3,974.3 984.9,974.8 C984.6,975.4 982.9,975.4 982.4,974.8 C981.9,974.3 981.6,972.0 982.0,971.4Z" fill="#ffffff"/>
<path d="M954.5,948.6 C954.8,948.2 956.3,948.2 956.6,948.6 C957.0,949.0 957.0,950.7 956.6,951.1 C956.3,951.6 954.8,951.6 954.5,951.1 C954.1,950.7 954.1,949.0 954.5,948.6Z" fill="#ffffff"/>
<path d="M964.2,933.4 C964.7,932.8 967.0,932.2 967.6,932.5 C968.2,932.8 968.5,934.5 968.0,935.1 C967.5,935.6 965.3,936.2 964.6,935.9 C964.0,935.6 963.7,933.9 964.2,933.4Z" fill="#ffffff"/>
<path d="M940.5,914.8 C940.5,913.3 941.9,912.8 942.6,913.5 C943.4,914.2 944.7,917.5 944.8,919.0 C944.8,920.5 943.8,923.1 943.1,922.4 C942.4,921.7 940.6,916.2 940.5,914.8Z" fill="#ffffff"/>
<path d="M989.6,889.4 C989.9,888.6 991.6,888.3 992.1,889.0 C992.6,889.6 992.8,892.4 992.6,893.2 C992.3,894.0 990.9,894.2 990.4,893.6 C990.0,893.0 989.3,890.2 989.6,889.4Z" fill="#ffffff"/>
<path d="M946.0,942.7 C946.3,941.9 947.8,941.3 948.1,941.8 C948.5,942.4 948.6,945.3 948.3,946.1 C948.0,946.8 946.8,947.1 946.5,946.5 C946.1,945.9 945.8,943.5 946.0,942.7Z" fill="#ffffff"/>
</g>
<clipPath id="bc4"><path d="M1178.6,826.5 C1178.2,822.5 1177.5,824.1 1176.5,822.8 C1175.4,821.5 1173.7,819.5 1172.3,818.6 C1170.8,817.8 1168.9,817.5 1167.6,817.7 C1166.4,817.9 1165.4,818.8 1164.7,820.0 C1163.9,821.2 1163.9,824.9 1163.0,825.1 C1162.1,825.3 1160.8,821.9 1159.3,821.4 C1157.7,820.9 1155.2,821.5 1153.7,822.3 C1152.2,823.2 1151.7,825.5 1150.5,826.5 C1149.2,827.5 1147.5,827.3 1146.3,828.4 C1145.0,829.4 1144.4,832.3 1143.0,833.0 C1141.7,833.7 1139.9,831.9 1138.4,832.5 C1136.9,833.2 1135.5,835.2 1134.2,836.7 C1133.0,838.2 1131.6,839.8 1131.0,841.4 C1130.4,842.9 1131.3,844.8 1130.5,846.0 C1129.7,847.2 1127.4,847.5 1126.3,848.8 C1125.2,850.0 1124.6,851.9 1124.0,853.4 C1123.4,855.0 1123.2,856.7 1122.6,858.1 C1122.1,859.5 1121.0,859.9 1120.8,861.8 C1120.5,863.6 1121.5,867.0 1121.2,869.2 C1121.0,871.4 1119.5,873.2 1119.4,874.8 C1119.2,876.4 1120.8,877.6 1120.3,879.0 C1119.8,880.3 1117.5,881.5 1116.6,883.1 C1115.6,884.8 1114.9,886.8 1114.5,888.7 C1114.2,890.6 1114.0,892.6 1114.3,894.3 C1114.6,895.9 1116.2,896.9 1116.4,898.4 C1116.6,900.0 1115.2,901.9 1115.2,903.6 C1115.2,905.2 1116.4,906.9 1116.6,908.2 C1116.7,909.5 1115.3,910.4 1116.1,911.4 C1116.9,912.4 1119.1,913.8 1121.2,914.2 C1123.3,914.6 1126.3,913.5 1128.6,913.8 C1131.0,914.1 1132.8,915.5 1135.1,916.1 C1137.5,916.6 1140.3,916.5 1142.6,917.0 C1144.9,917.6 1147.1,918.6 1149.1,919.3 C1151.0,920.1 1153.7,920.7 1154.2,921.7 C1154.6,922.6 1151.5,924.4 1151.9,924.9 C1152.2,925.4 1155.1,925.3 1156.5,924.4 C1157.9,923.6 1159.5,920.0 1160.2,919.8 C1160.9,919.6 1160.8,921.9 1160.7,923.0 C1160.5,924.2 1160.1,925.4 1159.3,926.8 C1158.4,928.2 1156.5,930.2 1155.6,931.4 C1154.6,932.6 1153.4,933.5 1153.7,934.2 C1154.0,934.8 1155.9,935.6 1157.4,935.3 C1159.0,935.0 1160.7,932.8 1163.0,932.5 C1165.3,932.2 1169.8,932.2 1171.3,933.4 C1172.9,934.6 1172.0,937.8 1172.3,939.8 C1172.6,941.7 1172.3,943.8 1173.2,945.3 C1174.1,946.9 1176.1,948.6 1177.8,949.0 C1179.5,949.5 1182.0,948.9 1183.4,948.1 C1184.8,947.3 1185.7,946.7 1186.2,944.4 C1186.7,942.1 1185.4,936.3 1186.7,934.2 C1187.9,932.1 1191.4,932.3 1193.6,931.6 C1195.9,930.8 1198.1,929.6 1200.1,929.7 C1202.1,929.9 1204.0,932.2 1205.7,932.5 C1207.4,932.8 1209.1,932.5 1210.3,931.4 C1211.6,930.3 1213.3,927.5 1213.1,925.8 C1213.0,924.1 1210.7,922.7 1209.4,921.2 C1208.1,919.6 1205.5,917.6 1205.2,916.5 C1204.9,915.5 1205.9,914.9 1207.6,914.9 C1209.2,914.9 1212.3,916.1 1215.0,916.5 C1217.6,917.0 1220.7,917.5 1223.3,917.5 C1226.0,917.5 1228.4,916.9 1230.8,916.5 C1233.1,916.2 1235.4,916.4 1237.3,915.6 C1239.1,914.8 1240.8,913.5 1241.9,911.9 C1243.0,910.4 1243.1,908.2 1243.8,906.3 C1244.4,904.5 1245.5,902.5 1245.6,900.8 C1245.8,899.1 1244.8,897.4 1244.7,896.1 C1244.6,894.9 1245.1,894.9 1245.1,893.3 C1245.1,891.8 1244.9,889.0 1244.7,886.8 C1244.4,884.7 1244.2,882.4 1243.8,880.3 C1243.3,878.3 1242.1,876.6 1241.9,874.8 C1241.7,872.9 1242.5,871.2 1242.4,869.2 C1242.2,867.2 1241.5,864.9 1241.0,862.7 C1240.4,860.5 1239.9,858.2 1239.1,856.2 C1238.3,854.2 1237.4,852.3 1236.3,850.6 C1235.2,848.9 1233.9,847.5 1232.6,846.0 C1231.4,844.5 1230.1,842.8 1228.9,841.4 C1227.7,840.0 1226.4,838.9 1225.2,837.6 C1223.9,836.4 1222.7,835.0 1221.5,833.9 C1220.2,832.9 1219.0,831.3 1217.8,831.1 C1216.5,831.0 1215.3,833.5 1214.0,833.0 C1212.8,832.5 1211.7,829.3 1210.3,828.4 C1208.9,827.4 1207.1,827.2 1205.7,827.4 C1204.3,827.7 1202.9,830.1 1202.0,829.8 C1201.1,829.4 1201.1,826.1 1200.1,825.1 C1199.2,824.1 1197.6,824.6 1196.4,823.7 C1195.2,822.9 1193.9,820.5 1192.7,820.0 C1191.5,819.5 1190.2,820.6 1189.0,820.9 C1187.7,821.2 1186.5,821.1 1185.3,821.9 C1184.0,822.6 1182.4,824.0 1181.6,825.6 C1180.7,827.1 1180.4,827.6 1180.2,831.1 C1179.9,834.7 1180.0,841.4 1179.9,846.9 C1179.8,852.5 1179.7,864.6 1179.5,864.6 C1179.3,864.6 1178.9,853.3 1178.8,846.9 C1178.6,840.6 1179.0,830.5 1178.6,826.5Z"/></clipPath>
<g filter="url(#rough)">
<g clip-path="url(#bc4)">
<path d="M1178.6,826.5 C1178.2,822.5 1177.5,824.1 1176.5,822.8 C1175.4,821.5 1173.7,819.5 1172.3,818.6 C1170.8,817.8 1168.9,817.5 1167.6,817.7 C1166.4,817.9 1165.4,818.8 1164.7,820.0 C1163.9,821.2 1163.9,824.9 1163.0,825.1 C1162.1,825.3 1160.8,821.9 1159.3,821.4 C1157.7,820.9 1155.2,821.5 1153.7,822.3 C1152.2,823.2 1151.7,825.5 1150.5,826.5 C1149.2,827.5 1147.5,827.3 1146.3,828.4 C1145.0,829.4 1144.4,832.3 1143.0,833.0 C1141.7,833.7 1139.9,831.9 1138.4,832.5 C1136.9,833.2 1135.5,835.2 1134.2,836.7 C1133.0,838.2 1131.6,839.8 1131.0,841.4 C1130.4,842.9 1131.3,844.8 1130.5,846.0 C1129.7,847.2 1127.4,847.5 1126.3,848.8 C1125.2,850.0 1124.6,851.9 1124.0,853.4 C1123.4,855.0 1123.2,856.7 1122.6,858.1 C1122.1,859.5 1121.0,859.9 1120.8,861.8 C1120.5,863.6 1121.5,867.0 1121.2,869.2 C1121.0,871.4 1119.5,873.2 1119.4,874.8 C1119.2,876.4 1120.8,877.6 1120.3,879.0 C1119.8,880.3 1117.5,881.5 1116.6,883.1 C1115.6,884.8 1114.9,886.8 1114.5,888.7 C1114.2,890.6 1114.0,892.6 1114.3,894.3 C1114.6,895.9 1116.2,896.9 1116.4,898.4 C1116.6,900.0 1115.2,901.9 1115.2,903.6 C1115.2,905.2 1116.4,906.9 1116.6,908.2 C1116.7,909.5 1115.3,910.4 1116.1,911.4 C1116.9,912.4 1119.1,913.8 1121.2,914.2 C1123.3,914.6 1126.3,913.5 1128.6,913.8 C1131.0,914.1 1132.8,915.5 1135.1,916.1 C1137.5,916.6 1140.3,916.5 1142.6,917.0 C1144.9,917.6 1147.1,918.6 1149.1,919.3 C1151.0,920.1 1153.7,920.7 1154.2,921.7 C1154.6,922.6 1151.5,924.4 1151.9,924.9 C1152.2,925.4 1155.1,925.3 1156.5,924.4 C1157.9,923.6 1159.5,920.0 1160.2,919.8 C1160.9,919.6 1160.8,921.9 1160.7,923.0 C1160.5,924.2 1160.1,925.4 1159.3,926.8 C1158.4,928.2 1156.5,930.2 1155.6,931.4 C1154.6,932.6 1153.4,933.5 1153.7,934.2 C1154.0,934.8 1155.9,935.6 1157.4,935.3 C1159.0,935.0 1160.7,932.8 1163.0,932.5 C1165.3,932.2 1169.8,932.2 1171.3,933.4 C1172.9,934.6 1172.0,937.8 1172.3,939.8 C1172.6,941.7 1172.3,943.8 1173.2,945.3 C1174.1,946.9 1176.1,948.6 1177.8,949.0 C1179.5,949.5 1182.0,948.9 1183.4,948.1 C1184.8,947.3 1185.7,946.7 1186.2,944.4 C1186.7,942.1 1185.4,936.3 1186.7,934.2 C1187.9,932.1 1191.4,932.3 1193.6,931.6 C1195.9,930.8 1198.1,929.6 1200.1,929.7 C1202.1,929.9 1204.0,932.2 1205.7,932.5 C1207.4,932.8 1209.1,932.5 1210.3,931.4 C1211.6,930.3 1213.3,927.5 1213.1,925.8 C1213.0,924.1 1210.7,922.7 1209.4,921.2 C1208.1,919.6 1205.5,917.6 1205.2,916.5 C1204.9,915.5 1205.9,914.9 1207.6,914.9 C1209.2,914.9 1212.3,916.1 1215.0,916.5 C1217.6,917.0 1220.7,917.5 1223.3,917.5 C1226.0,917.5 1228.4,916.9 1230.8,916.5 C1233.1,916.2 1235.4,916.4 1237.3,915.6 C1239.1,914.8 1240.8,913.5 1241.9,911.9 C1243.0,910.4 1243.1,908.2 1243.8,906.3 C1244.4,904.5 1245.5,902.5 1245.6,900.8 C1245.8,899.1 1244.8,897.4 1244.7,896.1 C1244.6,894.9 1245.1,894.9 1245.1,893.3 C1245.1,891.8 1244.9,889.0 1244.7,886.8 C1244.4,884.7 1244.2,882.4 1243.8,880.3 C1243.3,878.3 1242.1,876.6 1241.9,874.8 C1241.7,872.9 1242.5,871.2 1242.4,869.2 C1242.2,867.2 1241.5,864.9 1241.0,862.7 C1240.4,860.5 1239.9,858.2 1239.1,856.2 C1238.3,854.2 1237.4,852.3 1236.3,850.6 C1235.2,848.9 1233.9,847.5 1232.6,846.0 C1231.4,844.5 1230.1,842.8 1228.9,841.4 C1227.7,840.0 1226.4,838.9 1225.2,837.6 C1223.9,836.4 1222.7,835.0 1221.5,833.9 C1220.2,832.9 1219.0,831.3 1217.8,831.1 C1216.5,831.0 1215.3,833.5 1214.0,833.0 C1212.8,832.5 1211.7,829.3 1210.3,828.4 C1208.9,827.4 1207.1,827.2 1205.7,827.4 C1204.3,827.7 1202.9,830.1 1202.0,829.8 C1201.1,829.4 1201.1,826.1 1200.1,825.1 C1199.2,824.1 1197.6,824.6 1196.4,823.7 C1195.2,822.9 1193.9,820.5 1192.7,820.0 C1191.5,819.5 1190.2,820.6 1189.0,820.9 C1187.7,821.2 1186.5,821.1 1185.3,821.9 C1184.0,822.6 1182.4,824.0 1181.6,825.6 C1180.7,827.1 1180.4,827.6 1180.2,831.1 C1179.9,834.7 1180.0,841.4 1179.9,846.9 C1179.8,852.5 1179.7,864.6 1179.5,864.6 C1179.3,864.6 1178.9,853.3 1178.8,846.9 C1178.6,840.6 1179.0,830.5 1178.6,826.5Z" fill="#b2b2b2"/>
<g filter="url(#soft2)" fill="none" stroke="#dbdbdb" stroke-linecap="round" stroke-linejoin="round">
<path d="M1146.3,869.2 C1147.2,871.7 1151.9,879.4 1151.9,884.1 C1151.9,888.7 1147.2,894.9 1146.3,897.1" stroke-width="21.3"/>
<path d="M1212.2,869.2 C1211.6,871.7 1208.2,879.4 1208.5,884.1 C1208.8,888.7 1213.1,894.9 1214.0,897.1" stroke-width="21.3"/>
<path d="M1155.6,861.8 C1157.7,862.2 1164.5,863.9 1168.6,864.6 C1172.6,865.2 1176.0,865.5 1179.7,865.5 C1183.4,865.5 1186.8,865.2 1190.8,864.6 C1194.9,863.9 1201.7,862.2 1203.8,861.8" stroke-width="5.6"/>
<path d="M1170.4,874.8 C1172.0,874.8 1176.6,874.8 1179.7,874.8 C1182.8,874.8 1187.4,874.8 1189.0,874.8" stroke-width="16.7"/>
<path d="M1159.3,861.8 C1160.5,859.0 1165.0,851.0 1166.7,845.1 C1168.4,839.2 1169.0,829.6 1169.5,826.5" stroke-width="5.6"/>
<path d="M1151.9,858.1 C1152.5,855.6 1154.9,848.0 1155.6,843.2 C1156.2,838.4 1155.6,831.6 1155.6,829.3" stroke-width="5.2"/>
<path d="M1144.4,858.1 C1144.4,856.2 1145.2,850.2 1144.4,846.9 C1143.7,843.7 1140.6,840.0 1139.8,838.6" stroke-width="4.6"/>
<path d="M1138.9,865.5 C1137.8,864.3 1134.2,859.9 1132.4,858.1 C1130.5,856.2 1128.5,855.0 1127.7,854.4" stroke-width="4.3"/>
<path d="M1135.1,874.8 C1133.9,874.2 1129.7,872.0 1127.7,871.1 C1125.7,870.1 1123.9,869.5 1123.1,869.2" stroke-width="4.1"/>
<path d="M1137.9,891.5 C1136.2,892.3 1130.8,894.9 1127.7,896.1 C1124.6,897.4 1120.8,898.4 1119.4,898.9" stroke-width="4.6"/>
<path d="M1142.6,900.8 C1141.0,901.9 1136.4,905.7 1133.3,907.3 C1130.2,908.8 1125.6,909.6 1124.0,910.1" stroke-width="4.3"/>
<path d="M1150.0,902.6 C1149.4,904.0 1147.2,909.0 1146.3,911.0 C1145.4,913.0 1144.7,914.1 1144.4,914.7" stroke-width="4.3"/>
<path d="M1157.4,898.9 C1158.0,900.3 1160.4,905.1 1161.1,907.3 C1161.9,909.4 1161.9,911.1 1162.1,911.9" stroke-width="4.6"/>
<path d="M1200.1,861.8 C1198.9,859.0 1194.6,850.6 1192.7,845.1 C1190.8,839.5 1189.6,831.1 1189.0,828.4" stroke-width="5.6"/>
<path d="M1206.6,858.1 C1206.3,855.6 1204.9,847.4 1204.8,843.2 C1204.6,839.0 1205.5,834.7 1205.7,833.0" stroke-width="5.2"/>
<path d="M1214.0,858.1 C1214.5,856.2 1215.9,850.2 1216.8,846.9 C1217.8,843.7 1219.2,840.0 1219.6,838.6" stroke-width="4.6"/>
<path d="M1220.5,865.5 C1221.8,863.9 1226.0,858.5 1228.0,856.2 C1230.0,853.9 1231.8,852.3 1232.6,851.6" stroke-width="4.3"/>
<path d="M1224.3,874.8 C1225.8,873.8 1231.1,870.4 1233.5,869.2 C1236.0,868.0 1238.2,867.7 1239.1,867.4" stroke-width="3.7"/>
<path d="M1221.5,889.6 C1223.2,889.2 1228.4,887.9 1231.7,886.8 C1234.9,885.8 1239.4,883.8 1241.0,883.1" stroke-width="4.3"/>
<path d="M1218.7,898.9 C1220.5,899.8 1226.3,903.6 1229.8,904.5 C1233.4,905.4 1238.3,904.5 1240.0,904.5" stroke-width="4.3"/>
<path d="M1210.3,902.6 C1211.6,903.9 1215.8,908.2 1217.8,910.1 C1219.8,911.9 1221.6,913.1 1222.4,913.8" stroke-width="4.3"/>
<path d="M1201.1,898.9 C1200.9,900.1 1200.1,904.5 1200.1,906.3 C1200.1,908.2 1200.9,909.4 1201.1,910.1" stroke-width="4.3"/>
<path d="M1179.7,900.8 C1179.7,904.9 1179.7,918.7 1179.7,925.8 C1179.7,932.9 1179.7,940.5 1179.7,943.5" stroke-width="13.9"/>
<path d="M1166.7,925.8 C1168.9,925.5 1175.2,924.1 1179.7,924.0 C1184.2,923.8 1191.3,924.7 1193.6,924.9" stroke-width="10.2"/>
</g>
<g filter="url(#soft2)" fill="none" stroke="#a9a9a9" stroke-linecap="round" stroke-linejoin="round">
<path d="M1150.9,874.8 C1151.4,876.0 1153.2,881.0 1153.7,882.2" stroke-width="5.6"/>
<path d="M1205.7,874.8 C1205.4,876.0 1204.1,881.0 1203.8,882.2" stroke-width="5.6"/>
<path d="M1196.4,919.3 C1198.3,920.6 1205.7,925.5 1207.6,926.8" stroke-width="4.6"/>
</g>
<g filter="url(#soft)" fill="none" stroke="#888888" stroke-linecap="round" stroke-linejoin="round">
<path d="M1163.0,825.6 C1162.9,827.6 1162.4,835.6 1162.3,837.6" stroke-width="1.7"/>
<path d="M1150.9,831.1 C1151.4,832.4 1153.2,837.3 1153.7,838.6" stroke-width="3.0"/>
<path d="M1143.0,833.5 C1143.3,834.6 1144.7,837.6 1144.4,840.4 C1144.1,843.3 1141.2,848.0 1141.2,850.6 C1141.2,853.3 1143.9,855.3 1144.4,856.2" stroke-width="3.5"/>
<path d="M1131.0,841.8 C1131.7,843.0 1133.2,846.1 1135.1,848.8 C1137.1,851.5 1141.3,856.5 1142.6,858.1" stroke-width="2.6"/>
<path d="M1124.0,853.9 C1125.2,855.2 1130.2,860.5 1131.4,861.8" stroke-width="2.0"/>
<path d="M1121.2,869.2 C1122.8,869.5 1127.7,870.3 1130.5,871.1 C1133.3,871.8 1136.7,873.4 1137.9,873.8" stroke-width="1.4"/>
<path d="M1116.6,883.6 C1118.1,884.4 1122.8,887.1 1125.9,888.7 C1129.0,890.3 1133.6,892.6 1135.1,893.3" stroke-width="4.6"/>
<path d="M1115.2,903.6 C1117.0,903.4 1122.8,902.2 1125.9,902.6 C1128.9,903.1 1132.1,905.7 1133.3,906.3" stroke-width="2.0"/>
<path d="M1135.1,916.1 C1135.6,915.1 1136.7,911.5 1137.9,910.1 C1139.2,908.6 1141.8,907.7 1142.6,907.3" stroke-width="1.9"/>
<path d="M1149.1,919.3 C1148.8,918.1 1147.1,914.1 1147.2,911.9 C1147.4,909.7 1149.5,907.3 1150.0,906.3" stroke-width="1.9"/>
<path d="M1164.9,853.4 C1166.1,852.7 1170.3,850.2 1172.3,848.8 C1174.2,847.4 1175.8,845.7 1176.5,845.1" stroke-width="3.0"/>
<path d="M1171.3,863.2 C1172.7,863.5 1176.9,865.3 1179.7,865.3 C1182.5,865.3 1186.7,863.5 1188.1,863.2" stroke-width="1.4"/>
<path d="M1192.7,820.5 C1192.9,822.6 1193.9,829.7 1193.6,833.0 C1193.3,836.3 1191.3,839.2 1190.8,840.4" stroke-width="1.9"/>
<path d="M1202.0,830.2 C1201.7,831.9 1201.4,837.6 1200.1,840.4 C1198.9,843.2 1196.0,845.1 1194.6,846.9 C1193.1,848.8 1191.8,850.8 1191.3,851.6" stroke-width="3.9"/>
<path d="M1214.0,833.5 C1213.6,834.9 1212.0,838.8 1211.3,842.3 C1210.5,845.8 1208.8,851.7 1209.4,854.4 C1210.0,857.0 1214.0,857.4 1215.0,858.1" stroke-width="3.2"/>
<path d="M1228.9,841.8 C1228.0,843.1 1225.3,847.3 1223.3,849.7 C1221.3,852.1 1217.9,855.1 1216.8,856.2" stroke-width="2.6"/>
<path d="M1239.1,856.7 C1238.0,857.5 1234.2,860.5 1232.6,861.8 C1231.1,863.1 1230.3,864.1 1229.8,864.6" stroke-width="1.9"/>
<path d="M1242.4,869.7 C1241.4,870.4 1237.3,873.2 1236.3,873.8" stroke-width="1.4"/>
<path d="M1244.7,886.8 C1243.4,887.6 1240.8,890.4 1237.3,891.5 C1233.7,892.6 1226.1,892.1 1223.3,893.3 C1220.5,894.6 1221.0,898.0 1220.5,898.9" stroke-width="4.2"/>
<path d="M1243.8,906.3 C1242.4,905.7 1238.0,902.5 1235.4,902.6 C1232.8,902.8 1229.2,906.5 1228.0,907.3" stroke-width="2.0"/>
<path d="M1230.8,916.5 C1230.3,915.5 1228.4,911.1 1228.0,910.1" stroke-width="1.9"/>
<path d="M1215.0,916.5 C1214.8,915.6 1215.0,912.5 1214.0,911.0 C1213.1,909.4 1210.2,907.9 1209.4,907.3" stroke-width="1.9"/>
<path d="M1179.2,828.4 C1179.3,834.4 1179.5,858.5 1179.5,864.6" stroke-width="0.9"/>
<path d="M1179.7,898.9 C1179.7,900.5 1179.9,906.6 1180.0,908.2" stroke-width="0.9"/>
</g>
</g>
<path d="M1159.3,867.4 C1160.1,866.0 1161.8,865.6 1163.0,866.0 C1164.2,866.3 1165.7,867.9 1166.7,869.2 C1167.7,870.5 1168.9,872.3 1169.0,873.8 C1169.2,875.4 1168.5,877.8 1167.6,878.5 C1166.8,879.2 1164.9,877.7 1163.9,878.0 C1163.0,878.3 1162.9,880.1 1162.1,880.3 C1161.2,880.6 1159.5,880.5 1158.8,879.4 C1158.1,878.3 1157.8,875.9 1157.9,873.8 C1158.0,871.8 1158.4,868.7 1159.3,867.4Z" fill="#ffffff"/>
<path d="M1191.3,869.2 C1192.2,868.0 1194.2,867.0 1195.5,866.9 C1196.8,866.7 1198.3,867.1 1199.2,868.3 C1200.0,869.4 1200.5,872.1 1200.6,873.8 C1200.7,875.6 1200.4,878.2 1199.7,879.0 C1199.0,879.7 1197.3,878.3 1196.4,878.5 C1195.6,878.6 1195.3,880.0 1194.6,879.9 C1193.8,879.7 1192.5,878.6 1191.8,877.6 C1191.0,876.6 1190.0,875.2 1189.9,873.8 C1189.8,872.5 1190.4,870.4 1191.3,869.2Z" fill="#ffffff"/>
<path d="M1172.3,884.1 C1173.3,883.1 1177.3,883.7 1179.7,883.7 C1182.1,883.7 1185.7,883.1 1186.7,884.1 C1187.6,885.0 1184.5,887.5 1185.3,889.6 C1186.0,891.8 1191.0,895.6 1191.3,897.1 C1191.6,898.5 1188.2,898.5 1187.1,898.4 C1186.0,898.4 1186.0,897.0 1184.8,896.6 C1183.6,896.2 1181.5,896.0 1179.7,896.1 C1177.9,896.2 1175.5,896.7 1174.1,897.1 C1172.7,897.4 1172.6,898.4 1171.3,898.4 C1170.1,898.5 1166.3,899.0 1166.7,897.5 C1167.1,896.0 1172.7,891.9 1173.7,889.6 C1174.6,887.4 1171.3,885.0 1172.3,884.1Z" fill="#ffffff"/>
<path d="M1167.5,899.1 C1168.4,897.4 1171.8,896.3 1172.5,898.2 C1173.1,900.0 1172.4,907.1 1171.5,910.1 C1170.7,913.0 1168.8,913.8 1167.2,915.6 C1165.5,917.4 1162.7,920.3 1161.6,920.7 C1160.5,921.2 1159.8,919.3 1160.4,918.2 C1161.0,917.2 1164.0,916.2 1165.0,914.5 C1166.1,912.8 1166.3,910.8 1166.7,908.2 C1167.1,905.6 1166.5,900.8 1167.5,899.1Z" fill="#ffffff"/>
<path d="M1186.9,898.2 C1187.3,896.7 1190.1,898.6 1190.8,899.4 C1191.6,900.2 1190.4,901.3 1191.3,903.1 C1192.2,904.9 1194.9,908.6 1196.4,910.2 C1197.9,911.9 1198.8,912.0 1200.1,913.0 C1201.4,914.1 1202.9,915.3 1204.3,916.5 C1205.7,917.8 1208.6,920.3 1208.5,920.7 C1208.4,921.1 1205.4,920.0 1203.8,918.9 C1202.3,917.7 1200.9,914.9 1199.2,913.8 C1197.5,912.6 1195.3,912.8 1193.6,911.9 C1191.9,911.0 1190.1,910.5 1189.0,908.2 C1187.9,905.9 1186.6,899.6 1186.9,898.2Z" fill="#ffffff"/>
<path d="M1217.8,881.3 C1219.0,880.2 1223.1,877.7 1226.1,876.2 C1229.1,874.7 1234.1,872.6 1235.9,872.2 C1237.6,871.8 1238.0,872.9 1236.5,873.8 C1235.0,874.8 1230.0,876.6 1227.0,878.0 C1224.1,879.5 1220.2,882.1 1218.7,882.7 C1217.1,883.2 1216.5,882.4 1217.8,881.3Z" fill="#ffffff"/>
<path d="M1140.3,883.1 C1140.9,881.7 1144.7,876.4 1145.8,875.2 C1147.0,874.1 1147.7,874.7 1147.0,876.2 C1146.3,877.6 1142.8,882.9 1141.6,884.1 C1140.5,885.2 1139.6,884.6 1140.3,883.1Z" fill="#ffffff"/>
<path d="M1123.5,886.8 C1123.7,886.5 1124.7,886.1 1124.9,886.4 C1125.2,886.6 1125.3,887.9 1125.1,888.2 C1124.9,888.6 1124.1,888.7 1123.8,888.5 C1123.6,888.3 1123.4,887.2 1123.5,886.8Z" fill="#ffffff"/>
<path d="M1234.0,862.7 C1234.3,862.4 1235.5,862.1 1235.9,862.2 C1236.2,862.4 1236.4,863.5 1236.1,863.8 C1235.9,864.1 1234.6,864.4 1234.3,864.2 C1233.9,864.0 1233.7,863.0 1234.0,862.7Z" fill="#ffffff"/>
<path d="M1179.2,905.4 C1179.3,904.9 1180.1,904.6 1180.4,904.9 C1180.8,905.3 1181.2,907.2 1181.1,907.7 C1181.0,908.2 1180.2,908.4 1179.9,908.0 C1179.6,907.6 1179.1,905.9 1179.2,905.4Z" fill="#ffffff"/>
<path d="M1202.4,928.2 C1202.8,927.6 1205.0,926.4 1205.7,926.3 C1206.4,926.2 1206.8,927.1 1206.4,927.7 C1206.0,928.2 1204.0,929.5 1203.4,929.5 C1202.7,929.6 1202.1,928.7 1202.4,928.2Z" fill="#ffffff"/>
</g>
<line x1="993.4" y1="921.2" x2="1126.4" y2="878.2" stroke="#0a9b4a" stroke-width="4" stroke-linecap="butt"/>
<circle cx="993.4" cy="921.2" r="3.3" fill="#e60012"/><circle cx="1126.4" cy="878.2" r="3.3" fill="#e60012"/>
<text x="173.3" y="856.7" font-size="38" text-anchor="start" fill="#000" textLength="75.0" lengthAdjust="spacingAndGlyphs">L S2</text>
<text x="21.7" y="1015.0" font-size="38" text-anchor="start" fill="#000" textLength="75.0" lengthAdjust="spacingAndGlyphs">R AI</text>
<text x="1059.3" y="836.7" font-size="38" text-anchor="start" fill="#000" textLength="73.4" lengthAdjust="spacingAndGlyphs">L S2</text>
<text x="1009.3" y="1020.7" font-size="38" text-anchor="start" fill="#000" textLength="75.0" lengthAdjust="spacingAndGlyphs">R S2</text>
<path d="M524.1,958.3 V905.1 H581.5 V958.3" fill="none" stroke="#ff0000" stroke-width="4.2"/>
<path d="M612.1,958.3 V871.8 H669.2 V958.3" fill="none" stroke="#000000" stroke-width="4.2"/>
<path d="M700.1,958.3 V922.8 H757.5 V958.3" fill="none" stroke="#ff0000" stroke-width="4.2"/>
<path d="M788.1,958.3 V874.2 H845.9 V958.3" fill="none" stroke="#000000" stroke-width="4.2"/>
<path d="M552.3,886.7 V920.0 M538.3,886.7 H566.7 M538.3,920.0 H566.7" fill="none" stroke="#ff0000" stroke-width="2.5"/>
<path d="M641.0,856.7 V883.3 M627.7,856.7 H655.0 M627.7,883.3 H655.0" fill="none" stroke="#000000" stroke-width="2.5"/>
<path d="M729.3,906.7 V936.0 M715.0,906.7 H743.7 M715.0,936.0 H743.7" fill="none" stroke="#ff0000" stroke-width="2.5"/>
<path d="M817.7,864.0 V884.0 M804.3,864.0 H831.7 M804.3,884.0 H831.7" fill="none" stroke="#000000" stroke-width="2.5"/>
<line x1="495.7" y1="786.5" x2="495.7" y2="1044.2" stroke="#000" stroke-width="2.6" stroke-linecap="butt"/>
<line x1="486.7" y1="1043.0" x2="878.0" y2="1043.0" stroke="#000" stroke-width="2.5" stroke-linecap="butt"/>
<line x1="486.7" y1="958.3" x2="878.0" y2="958.3" stroke="#000" stroke-width="2.5" stroke-linecap="butt"/>
<line x1="486.7" y1="787.7" x2="495.7" y2="787.7" stroke="#000" stroke-width="2.4" stroke-linecap="butt"/>
<line x1="486.7" y1="873.3" x2="495.7" y2="873.3" stroke="#000" stroke-width="2.4" stroke-linecap="butt"/>
<line x1="486.7" y1="958.3" x2="495.7" y2="958.3" stroke="#000" stroke-width="2.4" stroke-linecap="butt"/>
<line x1="486.7" y1="1043.0" x2="495.7" y2="1043.0" stroke="#000" stroke-width="2.4" stroke-linecap="butt"/>
<line x1="552.3" y1="1043.0" x2="552.3" y2="1050.5" stroke="#000" stroke-width="2.4" stroke-linecap="butt"/>
<line x1="641.0" y1="1043.0" x2="641.0" y2="1050.5" stroke="#000" stroke-width="2.4" stroke-linecap="butt"/>
<line x1="729.7" y1="1043.0" x2="729.7" y2="1050.5" stroke="#000" stroke-width="2.4" stroke-linecap="butt"/>
<line x1="818.3" y1="1043.0" x2="818.3" y2="1050.5" stroke="#000" stroke-width="2.4" stroke-linecap="butt"/>
<g transform="translate(530.1,835.3)" stroke="#ff0000" fill="none"><circle r="4.2" stroke-width="2.7"/><path d="M1.6,-3.9 L3.2,-8.6" stroke-width="2.3"/><path d="M5.0,-14.4 L-0.7,-9.3 L6.8,-7.2 Z" fill="#ff0000" stroke="none"/></g>
<g transform="translate(545.4,844.3)" stroke="#ff0000" fill="none"><circle r="4.2" stroke-width="2.7"/><path d="M1.6,-3.9 L3.2,-8.6" stroke-width="2.3"/><path d="M5.0,-14.4 L-0.7,-9.3 L6.8,-7.2 Z" fill="#ff0000" stroke="none"/></g>
<g transform="translate(560.1,848.8)" stroke="#ff0000" fill="none"><circle r="4.2" stroke-width="2.7"/><path d="M1.6,-3.9 L3.2,-8.6" stroke-width="2.3"/><path d="M5.0,-14.4 L-0.7,-9.3 L6.8,-7.2 Z" fill="#ff0000" stroke="none"/></g>
<g transform="translate(575.4,839.1)" stroke="#ff0000" fill="none"><circle r="4.2" stroke-width="2.7"/><path d="M1.6,-3.9 L3.2,-8.6" stroke-width="2.3"/><path d="M5.0,-14.4 L-0.7,-9.3 L6.8,-7.2 Z" fill="#ff0000" stroke="none"/></g>
<g transform="translate(543.2,872.9)" stroke="#ff0000" fill="none"><circle r="4.2" stroke-width="2.7"/><path d="M1.6,-3.9 L3.2,-8.6" stroke-width="2.3"/><path d="M5.0,-14.4 L-0.7,-9.3 L6.8,-7.2 Z" fill="#ff0000" stroke="none"/></g>
<g transform="translate(562.3,865.7)" stroke="#ff0000" fill="none"><circle r="4.2" stroke-width="2.7"/><path d="M1.6,-3.9 L3.2,-8.6" stroke-width="2.3"/><path d="M5.0,-14.4 L-0.7,-9.3 L6.8,-7.2 Z" fill="#ff0000" stroke="none"/></g>
<g transform="translate(552.6,895.1)" stroke="#ff0000" fill="none"><circle r="4.2" stroke-width="2.7"/><path d="M1.6,-3.9 L3.2,-8.6" stroke-width="2.3"/><path d="M5.0,-14.4 L-0.7,-9.3 L6.8,-7.2 Z" fill="#ff0000" stroke="none"/></g>
<g transform="translate(562.3,911.5)" stroke="#ff0000" fill="none"><circle r="4.2" stroke-width="2.7"/><path d="M1.6,-3.9 L3.2,-8.6" stroke-width="2.3"/><path d="M5.0,-14.4 L-0.7,-9.3 L6.8,-7.2 Z" fill="#ff0000" stroke="none"/></g>
<g transform="translate(543.2,924.4)" stroke="#ff0000" fill="none"><circle r="4.2" stroke-width="2.7"/><path d="M1.6,-3.9 L3.2,-8.6" stroke-width="2.3"/><path d="M5.0,-14.4 L-0.7,-9.3 L6.8,-7.2 Z" fill="#ff0000" stroke="none"/></g>
<g transform="translate(572.5,935.2)" stroke="#ff0000" fill="none"><circle r="4.2" stroke-width="2.7"/><path d="M1.6,-3.9 L3.2,-8.6" stroke-width="2.3"/><path d="M5.0,-14.4 L-0.7,-9.3 L6.8,-7.2 Z" fill="#ff0000" stroke="none"/></g>
<g transform="translate(533.5,944.7)" stroke="#ff0000" fill="none"><circle r="4.2" stroke-width="2.7"/><path d="M1.6,-3.9 L3.2,-8.6" stroke-width="2.3"/><path d="M5.0,-14.4 L-0.7,-9.3 L6.8,-7.2 Z" fill="#ff0000" stroke="none"/></g>
<g transform="translate(552.6,951.9)" stroke="#ff0000" fill="none"><circle r="4.2" stroke-width="2.7"/><path d="M1.6,-3.9 L3.2,-8.6" stroke-width="2.3"/><path d="M5.0,-14.4 L-0.7,-9.3 L6.8,-7.2 Z" fill="#ff0000" stroke="none"/></g>
<g transform="translate(543.2,1022.5)" stroke="#ff0000" fill="none"><circle r="4.2" stroke-width="2.7"/><path d="M1.6,-3.9 L3.2,-8.6" stroke-width="2.3"/><path d="M5.0,-14.4 L-0.7,-9.3 L6.8,-7.2 Z" fill="#ff0000" stroke="none"/></g>
<g transform="translate(562.3,1018.0)" stroke="#ff0000" fill="none"><circle r="4.2" stroke-width="2.7"/><path d="M1.6,-3.9 L3.2,-8.6" stroke-width="2.3"/><path d="M5.0,-14.4 L-0.7,-9.3 L6.8,-7.2 Z" fill="#ff0000" stroke="none"/></g>
<g transform="translate(626.2,831.9)" stroke="#000000" fill="none"><circle r="4.2" stroke-width="2.7"/><path d="M1.6,-3.9 L3.2,-8.6" stroke-width="2.3"/><path d="M5.0,-14.4 L-0.7,-9.3 L6.8,-7.2 Z" fill="#000000" stroke="none"/></g>
<g transform="translate(631.2,827.4)" stroke="#000000" fill="none"><circle r="4.2" stroke-width="2.7"/><path d="M1.6,-3.9 L3.2,-8.6" stroke-width="2.3"/><path d="M5.0,-14.4 L-0.7,-9.3 L6.8,-7.2 Z" fill="#000000" stroke="none"/></g>
<g transform="translate(636.3,839.1)" stroke="#000000" fill="none"><circle r="4.2" stroke-width="2.7"/><path d="M1.6,-3.9 L3.2,-8.6" stroke-width="2.3"/><path d="M5.0,-14.4 L-0.7,-9.3 L6.8,-7.2 Z" fill="#000000" stroke="none"/></g>
<g transform="translate(650.8,831.4)" stroke="#000000" fill="none"><circle r="4.2" stroke-width="2.7"/><path d="M1.6,-3.9 L3.2,-8.6" stroke-width="2.3"/><path d="M5.0,-14.4 L-0.7,-9.3 L6.8,-7.2 Z" fill="#000000" stroke="none"/></g>
<g transform="translate(656.4,833.5)" stroke="#000000" fill="none"><circle r="4.2" stroke-width="2.7"/><path d="M1.6,-3.9 L3.2,-8.6" stroke-width="2.3"/><path d="M5.0,-14.4 L-0.7,-9.3 L6.8,-7.2 Z" fill="#000000" stroke="none"/></g>
<g transform="translate(645.8,846.6)" stroke="#000000" fill="none"><circle r="4.2" stroke-width="2.7"/><path d="M1.6,-3.9 L3.2,-8.6" stroke-width="2.3"/><path d="M5.0,-14.4 L-0.7,-9.3 L6.8,-7.2 Z" fill="#000000" stroke="none"/></g>
<g transform="translate(631.6,870.2)" stroke="#000000" fill="none"><circle r="4.2" stroke-width="2.7"/><path d="M1.6,-3.9 L3.2,-8.6" stroke-width="2.3"/><path d="M5.0,-14.4 L-0.7,-9.3 L6.8,-7.2 Z" fill="#000000" stroke="none"/></g>
<g transform="translate(650.8,869.1)" stroke="#000000" fill="none"><circle r="4.2" stroke-width="2.7"/><path d="M1.6,-3.9 L3.2,-8.6" stroke-width="2.3"/><path d="M5.0,-14.4 L-0.7,-9.3 L6.8,-7.2 Z" fill="#000000" stroke="none"/></g>
<g transform="translate(621.7,910.4)" stroke="#000000" fill="none"><circle r="4.2" stroke-width="2.7"/><path d="M1.6,-3.9 L3.2,-8.6" stroke-width="2.3"/><path d="M5.0,-14.4 L-0.7,-9.3 L6.8,-7.2 Z" fill="#000000" stroke="none"/></g>
<g transform="translate(640.9,913.1)" stroke="#000000" fill="none"><circle r="4.2" stroke-width="2.7"/><path d="M1.6,-3.9 L3.2,-8.6" stroke-width="2.3"/><path d="M5.0,-14.4 L-0.7,-9.3 L6.8,-7.2 Z" fill="#000000" stroke="none"/></g>
<g transform="translate(660.5,901.8)" stroke="#000000" fill="none"><circle r="4.2" stroke-width="2.7"/><path d="M1.6,-3.9 L3.2,-8.6" stroke-width="2.3"/><path d="M5.0,-14.4 L-0.7,-9.3 L6.8,-7.2 Z" fill="#000000" stroke="none"/></g>
<g transform="translate(650.8,940.6)" stroke="#000000" fill="none"><circle r="4.2" stroke-width="2.7"/><path d="M1.6,-3.9 L3.2,-8.6" stroke-width="2.3"/><path d="M5.0,-14.4 L-0.7,-9.3 L6.8,-7.2 Z" fill="#000000" stroke="none"/></g>
<g transform="translate(631.6,959.8)" stroke="#000000" fill="none"><circle r="4.2" stroke-width="2.7"/><path d="M1.6,-3.9 L3.2,-8.6" stroke-width="2.3"/><path d="M5.0,-14.4 L-0.7,-9.3 L6.8,-7.2 Z" fill="#000000" stroke="none"/></g>
<g transform="translate(729.7,854.5)" stroke="#ff0000" fill="none"><circle r="4.2" stroke-width="2.6"/><path d="M0,5.2 V12.6 M-4.3,8.6 H4.3" stroke-width="2.4"/></g>
<g transform="translate(714.2,873.2)" stroke="#ff0000" fill="none"><circle r="4.2" stroke-width="2.6"/><path d="M0,5.2 V12.6 M-4.3,8.6 H4.3" stroke-width="2.4"/></g>
<g transform="translate(745.1,876.6)" stroke="#ff0000" fill="none"><circle r="4.2" stroke-width="2.6"/><path d="M0,5.2 V12.6 M-4.3,8.6 H4.3" stroke-width="2.4"/></g>
<g transform="translate(729.3,883.8)" stroke="#ff0000" fill="none"><circle r="4.2" stroke-width="2.6"/><path d="M0,5.2 V12.6 M-4.3,8.6 H4.3" stroke-width="2.4"/></g>
<g transform="translate(729.7,907.9)" stroke="#ff0000" fill="none"><circle r="4.2" stroke-width="2.6"/><path d="M0,5.2 V12.6 M-4.3,8.6 H4.3" stroke-width="2.4"/></g>
<g transform="translate(729.3,923.9)" stroke="#ff0000" fill="none"><circle r="4.2" stroke-width="2.6"/><path d="M0,5.2 V12.6 M-4.3,8.6 H4.3" stroke-width="2.4"/></g>
<g transform="translate(721.8,951.5)" stroke="#ff0000" fill="none"><circle r="4.2" stroke-width="2.6"/><path d="M0,5.2 V12.6 M-4.3,8.6 H4.3" stroke-width="2.4"/></g>
<g transform="translate(745.1,959.4)" stroke="#ff0000" fill="none"><circle r="4.2" stroke-width="2.6"/><path d="M0,5.2 V12.6 M-4.3,8.6 H4.3" stroke-width="2.4"/></g>
<g transform="translate(737.2,974.0)" stroke="#ff0000" fill="none"><circle r="4.2" stroke-width="2.6"/><path d="M0,5.2 V12.6 M-4.3,8.6 H4.3" stroke-width="2.4"/></g>
<g transform="translate(721.8,984.6)" stroke="#ff0000" fill="none"><circle r="4.2" stroke-width="2.6"/><path d="M0,5.2 V12.6 M-4.3,8.6 H4.3" stroke-width="2.4"/></g>
<g transform="translate(789.1,839.1)" stroke="#000000" fill="none"><circle r="4.2" stroke-width="2.6"/><path d="M0,5.2 V12.6 M-4.3,8.6 H4.3" stroke-width="2.4"/></g>
<g transform="translate(817.7,840.9)" stroke="#000000" fill="none"><circle r="4.2" stroke-width="2.6"/><path d="M0,5.2 V12.6 M-4.3,8.6 H4.3" stroke-width="2.4"/></g>
<g transform="translate(837.6,833.5)" stroke="#000000" fill="none"><circle r="4.2" stroke-width="2.6"/><path d="M0,5.2 V12.6 M-4.3,8.6 H4.3" stroke-width="2.4"/></g>
<g transform="translate(798.8,855.6)" stroke="#000000" fill="none"><circle r="4.2" stroke-width="2.6"/><path d="M0,5.2 V12.6 M-4.3,8.6 H4.3" stroke-width="2.4"/></g>
<g transform="translate(837.6,857.4)" stroke="#000000" fill="none"><circle r="4.2" stroke-width="2.6"/><path d="M0,5.2 V12.6 M-4.3,8.6 H4.3" stroke-width="2.4"/></g>
<g transform="translate(817.7,868.4)" stroke="#000000" fill="none"><circle r="4.2" stroke-width="2.6"/><path d="M0,5.2 V12.6 M-4.3,8.6 H4.3" stroke-width="2.4"/></g>
<g transform="translate(808.3,880.8)" stroke="#000000" fill="none"><circle r="4.2" stroke-width="2.6"/><path d="M0,5.2 V12.6 M-4.3,8.6 H4.3" stroke-width="2.4"/></g>
<g transform="translate(827.4,893.5)" stroke="#000000" fill="none"><circle r="4.2" stroke-width="2.6"/><path d="M0,5.2 V12.6 M-4.3,8.6 H4.3" stroke-width="2.4"/></g>
<g transform="translate(808.3,921.0)" stroke="#000000" fill="none"><circle r="4.2" stroke-width="2.6"/><path d="M0,5.2 V12.6 M-4.3,8.6 H4.3" stroke-width="2.4"/></g>
<g transform="translate(827.4,918.1)" stroke="#000000" fill="none"><circle r="4.2" stroke-width="2.6"/><path d="M0,5.2 V12.6 M-4.3,8.6 H4.3" stroke-width="2.4"/></g>
<text x="440.0" y="809.3" font-size="35" text-anchor="start" fill="#000" textLength="43.3" lengthAdjust="spacingAndGlyphs">1.0</text>
<text x="440.0" y="890.5" font-size="35" text-anchor="start" fill="#000" textLength="43.3" lengthAdjust="spacingAndGlyphs">0.5</text>
<text x="440.0" y="972.0" font-size="35" text-anchor="start" fill="#000" textLength="43.3" lengthAdjust="spacingAndGlyphs">0.0</text>
<text x="424.0" y="1061.5" font-size="35" text-anchor="start" fill="#000" textLength="56.0" lengthAdjust="spacingAndGlyphs">-0.5</text>
<text transform="translate(418.5,1037.5) rotate(-90)" font-size="33" text-anchor="start" fill="#000" textLength="242.5" lengthAdjust="spacing" style="stroke-width:0.45">typical static FC</text>
<text x="505.0" y="1083.5" font-size="34" text-anchor="start" fill="#000" textLength="85.0" lengthAdjust="spacingAndGlyphs">LBLP</text>
<text x="611.7" y="1083.5" font-size="34" text-anchor="start" fill="#000" textLength="61.0" lengthAdjust="spacingAndGlyphs">HCs</text>
<text x="689.3" y="1083.5" font-size="34" text-anchor="start" fill="#000" textLength="85.0" lengthAdjust="spacingAndGlyphs">LBLP</text>
<text x="788.3" y="1083.5" font-size="34" text-anchor="start" fill="#000" textLength="62.0" lengthAdjust="spacingAndGlyphs">HCs</text>
<path d="M1409.0,954.2 V903.0 H1469.7 V954.2" fill="none" stroke="#ff0000" stroke-width="4.2"/>
<path d="M1500.4,954.2 V874.3 H1560.6 V954.2" fill="none" stroke="#000000" stroke-width="4.2"/>
<path d="M1591.8,954.2 V922.8 H1652.0 V954.2" fill="none" stroke="#ff0000" stroke-width="4.2"/>
<path d="M1683.1,954.2 V873.8 H1743.8 V954.2" fill="none" stroke="#000000" stroke-width="4.2"/>
<path d="M1438.7,891.0 V914.3 M1424.3,891.0 H1453.7 M1424.3,914.3 H1453.7" fill="none" stroke="#ff0000" stroke-width="2.5"/>
<path d="M1530.3,866.0 V879.3 M1516.3,866.0 H1545.3 M1516.3,879.3 H1545.3" fill="none" stroke="#000000" stroke-width="2.5"/>
<path d="M1622.0,907.7 V936.7 M1607.0,907.7 H1636.3 M1607.0,936.7 H1636.3" fill="none" stroke="#ff0000" stroke-width="2.5"/>
<path d="M1713.7,860.7 V886.7 M1698.7,860.7 H1728.7 M1698.7,886.7 H1728.7" fill="none" stroke="#000000" stroke-width="2.5"/>
<line x1="1379.3" y1="778.1" x2="1379.3" y2="1043.7" stroke="#000" stroke-width="2.6" stroke-linecap="butt"/>
<line x1="1370.3" y1="1042.5" x2="1758.5" y2="1042.5" stroke="#000" stroke-width="2.5" stroke-linecap="butt"/>
<line x1="1370.3" y1="954.2" x2="1758.5" y2="954.2" stroke="#000" stroke-width="2.5" stroke-linecap="butt"/>
<line x1="1370.3" y1="779.3" x2="1379.3" y2="779.3" stroke="#000" stroke-width="2.4" stroke-linecap="butt"/>
<line x1="1370.3" y1="866.7" x2="1379.3" y2="866.7" stroke="#000" stroke-width="2.4" stroke-linecap="butt"/>
<line x1="1370.3" y1="954.2" x2="1379.3" y2="954.2" stroke="#000" stroke-width="2.4" stroke-linecap="butt"/>
<line x1="1370.3" y1="1042.5" x2="1379.3" y2="1042.5" stroke="#000" stroke-width="2.4" stroke-linecap="butt"/>
<line x1="1374.3" y1="822.7" x2="1379.3" y2="822.7" stroke="#000" stroke-width="2.2" stroke-linecap="butt"/>
<line x1="1374.3" y1="910.7" x2="1379.3" y2="910.7" stroke="#000" stroke-width="2.2" stroke-linecap="butt"/>
<line x1="1374.3" y1="998.5" x2="1379.3" y2="998.5" stroke="#000" stroke-width="2.2" stroke-linecap="butt"/>
<line x1="1438.7" y1="1042.5" x2="1438.7" y2="1050.0" stroke="#000" stroke-width="2.4" stroke-linecap="butt"/>
<line x1="1530.3" y1="1042.5" x2="1530.3" y2="1050.0" stroke="#000" stroke-width="2.4" stroke-linecap="butt"/>
<line x1="1621.5" y1="1042.5" x2="1621.5" y2="1050.0" stroke="#000" stroke-width="2.4" stroke-linecap="butt"/>
<line x1="1713.0" y1="1042.5" x2="1713.0" y2="1050.0" stroke="#000" stroke-width="2.4" stroke-linecap="butt"/>
<g transform="translate(1419.6,856.7)" stroke="#ff0000" fill="none"><circle r="4.2" stroke-width="2.7"/><path d="M1.6,-3.9 L3.2,-8.6" stroke-width="2.3"/><path d="M5.0,-14.4 L-0.7,-9.3 L6.8,-7.2 Z" fill="#ff0000" stroke="none"/></g>
<g transform="translate(1439.3,858.3)" stroke="#ff0000" fill="none"><circle r="4.2" stroke-width="2.7"/><path d="M1.6,-3.9 L3.2,-8.6" stroke-width="2.3"/><path d="M5.0,-14.4 L-0.7,-9.3 L6.8,-7.2 Z" fill="#ff0000" stroke="none"/></g>
<g transform="translate(1459.6,850.4)" stroke="#ff0000" fill="none"><circle r="4.2" stroke-width="2.7"/><path d="M1.6,-3.9 L3.2,-8.6" stroke-width="2.3"/><path d="M5.0,-14.4 L-0.7,-9.3 L6.8,-7.2 Z" fill="#ff0000" stroke="none"/></g>
<g transform="translate(1429.1,878.6)" stroke="#ff0000" fill="none"><circle r="4.2" stroke-width="2.7"/><path d="M1.6,-3.9 L3.2,-8.6" stroke-width="2.3"/><path d="M5.0,-14.4 L-0.7,-9.3 L6.8,-7.2 Z" fill="#ff0000" stroke="none"/></g>
<g transform="translate(1449.4,874.3)" stroke="#ff0000" fill="none"><circle r="4.2" stroke-width="2.7"/><path d="M1.6,-3.9 L3.2,-8.6" stroke-width="2.3"/><path d="M5.0,-14.4 L-0.7,-9.3 L6.8,-7.2 Z" fill="#ff0000" stroke="none"/></g>
<g transform="translate(1419.6,894.6)" stroke="#ff0000" fill="none"><circle r="4.2" stroke-width="2.7"/><path d="M1.6,-3.9 L3.2,-8.6" stroke-width="2.3"/><path d="M5.0,-14.4 L-0.7,-9.3 L6.8,-7.2 Z" fill="#ff0000" stroke="none"/></g>
<g transform="translate(1459.6,888.3)" stroke="#ff0000" fill="none"><circle r="4.2" stroke-width="2.7"/><path d="M1.6,-3.9 L3.2,-8.6" stroke-width="2.3"/><path d="M5.0,-14.4 L-0.7,-9.3 L6.8,-7.2 Z" fill="#ff0000" stroke="none"/></g>
<g transform="translate(1439.3,899.6)" stroke="#ff0000" fill="none"><circle r="4.2" stroke-width="2.7"/><path d="M1.6,-3.9 L3.2,-8.6" stroke-width="2.3"/><path d="M5.0,-14.4 L-0.7,-9.3 L6.8,-7.2 Z" fill="#ff0000" stroke="none"/></g>
<g transform="translate(1416.2,923.3)" stroke="#ff0000" fill="none"><circle r="4.2" stroke-width="2.7"/><path d="M1.6,-3.9 L3.2,-8.6" stroke-width="2.3"/><path d="M5.0,-14.4 L-0.7,-9.3 L6.8,-7.2 Z" fill="#ff0000" stroke="none"/></g>
<g transform="translate(1462.5,922.6)" stroke="#ff0000" fill="none"><circle r="4.2" stroke-width="2.7"/><path d="M1.6,-3.9 L3.2,-8.6" stroke-width="2.3"/><path d="M5.0,-14.4 L-0.7,-9.3 L6.8,-7.2 Z" fill="#ff0000" stroke="none"/></g>
<g transform="translate(1431.4,941.8)" stroke="#ff0000" fill="none"><circle r="4.2" stroke-width="2.7"/><path d="M1.6,-3.9 L3.2,-8.6" stroke-width="2.3"/><path d="M5.0,-14.4 L-0.7,-9.3 L6.8,-7.2 Z" fill="#ff0000" stroke="none"/></g>
<g transform="translate(1447.2,935.0)" stroke="#ff0000" fill="none"><circle r="4.2" stroke-width="2.7"/><path d="M1.6,-3.9 L3.2,-8.6" stroke-width="2.3"/><path d="M5.0,-14.4 L-0.7,-9.3 L6.8,-7.2 Z" fill="#ff0000" stroke="none"/></g>
<g transform="translate(1439.3,973.3)" stroke="#ff0000" fill="none"><circle r="4.2" stroke-width="2.7"/><path d="M1.6,-3.9 L3.2,-8.6" stroke-width="2.3"/><path d="M5.0,-14.4 L-0.7,-9.3 L6.8,-7.2 Z" fill="#ff0000" stroke="none"/></g>
<g transform="translate(1439.3,1001.1)" stroke="#ff0000" fill="none"><circle r="4.2" stroke-width="2.7"/><path d="M1.6,-3.9 L3.2,-8.6" stroke-width="2.3"/><path d="M5.0,-14.4 L-0.7,-9.3 L6.8,-7.2 Z" fill="#ff0000" stroke="none"/></g>
<g transform="translate(1521.2,821.1)" stroke="#000000" fill="none"><circle r="4.2" stroke-width="2.7"/><path d="M1.6,-3.9 L3.2,-8.6" stroke-width="2.3"/><path d="M5.0,-14.4 L-0.7,-9.3 L6.8,-7.2 Z" fill="#000000" stroke="none"/></g>
<g transform="translate(1551.2,830.8)" stroke="#000000" fill="none"><circle r="4.2" stroke-width="2.7"/><path d="M1.6,-3.9 L3.2,-8.6" stroke-width="2.3"/><path d="M5.0,-14.4 L-0.7,-9.3 L6.8,-7.2 Z" fill="#000000" stroke="none"/></g>
<g transform="translate(1540.8,847.7)" stroke="#000000" fill="none"><circle r="4.2" stroke-width="2.7"/><path d="M1.6,-3.9 L3.2,-8.6" stroke-width="2.3"/><path d="M5.0,-14.4 L-0.7,-9.3 L6.8,-7.2 Z" fill="#000000" stroke="none"/></g>
<g transform="translate(1520.7,855.6)" stroke="#000000" fill="none"><circle r="4.2" stroke-width="2.7"/><path d="M1.6,-3.9 L3.2,-8.6" stroke-width="2.3"/><path d="M5.0,-14.4 L-0.7,-9.3 L6.8,-7.2 Z" fill="#000000" stroke="none"/></g>
<g transform="translate(1511.7,889.0)" stroke="#000000" fill="none"><circle r="4.2" stroke-width="2.7"/><path d="M1.6,-3.9 L3.2,-8.6" stroke-width="2.3"/><path d="M5.0,-14.4 L-0.7,-9.3 L6.8,-7.2 Z" fill="#000000" stroke="none"/></g>
<g transform="translate(1518.9,893.5)" stroke="#000000" fill="none"><circle r="4.2" stroke-width="2.7"/><path d="M1.6,-3.9 L3.2,-8.6" stroke-width="2.3"/><path d="M5.0,-14.4 L-0.7,-9.3 L6.8,-7.2 Z" fill="#000000" stroke="none"/></g>
<g transform="translate(1526.8,898.0)" stroke="#000000" fill="none"><circle r="4.2" stroke-width="2.7"/><path d="M1.6,-3.9 L3.2,-8.6" stroke-width="2.3"/><path d="M5.0,-14.4 L-0.7,-9.3 L6.8,-7.2 Z" fill="#000000" stroke="none"/></g>
<g transform="translate(1534.2,898.9)" stroke="#000000" fill="none"><circle r="4.2" stroke-width="2.7"/><path d="M1.6,-3.9 L3.2,-8.6" stroke-width="2.3"/><path d="M5.0,-14.4 L-0.7,-9.3 L6.8,-7.2 Z" fill="#000000" stroke="none"/></g>
<g transform="translate(1541.9,894.4)" stroke="#000000" fill="none"><circle r="4.2" stroke-width="2.7"/><path d="M1.6,-3.9 L3.2,-8.6" stroke-width="2.3"/><path d="M5.0,-14.4 L-0.7,-9.3 L6.8,-7.2 Z" fill="#000000" stroke="none"/></g>
<g transform="translate(1549.8,891.7)" stroke="#000000" fill="none"><circle r="4.2" stroke-width="2.7"/><path d="M1.6,-3.9 L3.2,-8.6" stroke-width="2.3"/><path d="M5.0,-14.4 L-0.7,-9.3 L6.8,-7.2 Z" fill="#000000" stroke="none"/></g>
<g transform="translate(1524.5,880.4)" stroke="#000000" fill="none"><circle r="4.2" stroke-width="2.7"/><path d="M1.6,-3.9 L3.2,-8.6" stroke-width="2.3"/><path d="M5.0,-14.4 L-0.7,-9.3 L6.8,-7.2 Z" fill="#000000" stroke="none"/></g>
<g transform="translate(1540.8,885.6)" stroke="#000000" fill="none"><circle r="4.2" stroke-width="2.7"/><path d="M1.6,-3.9 L3.2,-8.6" stroke-width="2.3"/><path d="M5.0,-14.4 L-0.7,-9.3 L6.8,-7.2 Z" fill="#000000" stroke="none"/></g>
<g transform="translate(1550.5,882.7)" stroke="#000000" fill="none"><circle r="4.2" stroke-width="2.7"/><path d="M1.6,-3.9 L3.2,-8.6" stroke-width="2.3"/><path d="M5.0,-14.4 L-0.7,-9.3 L6.8,-7.2 Z" fill="#000000" stroke="none"/></g>
<g transform="translate(1530.6,942.9)" stroke="#000000" fill="none"><circle r="4.2" stroke-width="2.7"/><path d="M1.6,-3.9 L3.2,-8.6" stroke-width="2.3"/><path d="M5.0,-14.4 L-0.7,-9.3 L6.8,-7.2 Z" fill="#000000" stroke="none"/></g>
<g transform="translate(1598.3,875.9)" stroke="#ff0000" fill="none"><circle r="4.2" stroke-width="2.6"/><path d="M0,5.2 V12.6 M-4.3,8.6 H4.3" stroke-width="2.4"/></g>
<g transform="translate(1622.2,879.9)" stroke="#ff0000" fill="none"><circle r="4.2" stroke-width="2.6"/><path d="M0,5.2 V12.6 M-4.3,8.6 H4.3" stroke-width="2.4"/></g>
<g transform="translate(1638.0,868.7)" stroke="#ff0000" fill="none"><circle r="4.2" stroke-width="2.6"/><path d="M0,5.2 V12.6 M-4.3,8.6 H4.3" stroke-width="2.4"/></g>
<g transform="translate(1606.2,891.0)" stroke="#ff0000" fill="none"><circle r="4.2" stroke-width="2.6"/><path d="M0,5.2 V12.6 M-4.3,8.6 H4.3" stroke-width="2.4"/></g>
<g transform="translate(1638.0,895.7)" stroke="#ff0000" fill="none"><circle r="4.2" stroke-width="2.6"/><path d="M0,5.2 V12.6 M-4.3,8.6 H4.3" stroke-width="2.4"/></g>
<g transform="translate(1622.2,903.6)" stroke="#ff0000" fill="none"><circle r="4.2" stroke-width="2.6"/><path d="M0,5.2 V12.6 M-4.3,8.6 H4.3" stroke-width="2.4"/></g>
<g transform="translate(1606.2,956.6)" stroke="#ff0000" fill="none"><circle r="4.2" stroke-width="2.6"/><path d="M0,5.2 V12.6 M-4.3,8.6 H4.3" stroke-width="2.4"/></g>
<g transform="translate(1638.0,953.7)" stroke="#ff0000" fill="none"><circle r="4.2" stroke-width="2.6"/><path d="M0,5.2 V12.6 M-4.3,8.6 H4.3" stroke-width="2.4"/></g>
<g transform="translate(1622.2,967.3)" stroke="#ff0000" fill="none"><circle r="4.2" stroke-width="2.6"/><path d="M0,5.2 V12.6 M-4.3,8.6 H4.3" stroke-width="2.4"/></g>
<g transform="translate(1622.2,1006.3)" stroke="#ff0000" fill="none"><circle r="4.2" stroke-width="2.6"/><path d="M0,5.2 V12.6 M-4.3,8.6 H4.3" stroke-width="2.4"/></g>
<g transform="translate(1713.6,809.3)" stroke="#000000" fill="none"><circle r="4.2" stroke-width="2.6"/><path d="M0,5.2 V12.6 M-4.3,8.6 H4.3" stroke-width="2.4"/></g>
<g transform="translate(1690.4,840.2)" stroke="#000000" fill="none"><circle r="4.2" stroke-width="2.6"/><path d="M0,5.2 V12.6 M-4.3,8.6 H4.3" stroke-width="2.4"/></g>
<g transform="translate(1706.2,843.8)" stroke="#000000" fill="none"><circle r="4.2" stroke-width="2.6"/><path d="M0,5.2 V12.6 M-4.3,8.6 H4.3" stroke-width="2.4"/></g>
<g transform="translate(1737.1,841.4)" stroke="#000000" fill="none"><circle r="4.2" stroke-width="2.6"/><path d="M0,5.2 V12.6 M-4.3,8.6 H4.3" stroke-width="2.4"/></g>
<g transform="translate(1721.3,858.3)" stroke="#000000" fill="none"><circle r="4.2" stroke-width="2.6"/><path d="M0,5.2 V12.6 M-4.3,8.6 H4.3" stroke-width="2.4"/></g>
<g transform="translate(1723.1,869.8)" stroke="#000000" fill="none"><circle r="4.2" stroke-width="2.6"/><path d="M0,5.2 V12.6 M-4.3,8.6 H4.3" stroke-width="2.4"/></g>
<g transform="translate(1703.9,883.8)" stroke="#000000" fill="none"><circle r="4.2" stroke-width="2.6"/><path d="M0,5.2 V12.6 M-4.3,8.6 H4.3" stroke-width="2.4"/></g>
<g transform="translate(1703.9,903.4)" stroke="#000000" fill="none"><circle r="4.2" stroke-width="2.6"/><path d="M0,5.2 V12.6 M-4.3,8.6 H4.3" stroke-width="2.4"/></g>
<g transform="translate(1723.5,910.9)" stroke="#000000" fill="none"><circle r="4.2" stroke-width="2.6"/><path d="M0,5.2 V12.6 M-4.3,8.6 H4.3" stroke-width="2.4"/></g>
<g transform="translate(1713.6,944.0)" stroke="#000000" fill="none"><circle r="4.2" stroke-width="2.6"/><path d="M0,5.2 V12.6 M-4.3,8.6 H4.3" stroke-width="2.4"/></g>
<text x="1315.3" y="806.5" font-size="35" text-anchor="start" fill="#000" textLength="41.7" lengthAdjust="spacingAndGlyphs">2.0</text>
<text x="1315.3" y="887.5" font-size="35" text-anchor="start" fill="#000" textLength="41.7" lengthAdjust="spacingAndGlyphs">1.0</text>
<text x="1315.3" y="971.5" font-size="35" text-anchor="start" fill="#000" textLength="41.7" lengthAdjust="spacingAndGlyphs">0.0</text>
<text x="1310.3" y="1055.0" font-size="35" text-anchor="start" fill="#000" textLength="55.0" lengthAdjust="spacingAndGlyphs">-1.0</text>
<text transform="translate(1284.5,1038.5) rotate(-90)" font-size="33" text-anchor="start" fill="#000" textLength="236.0" lengthAdjust="spacing" style="stroke-width:0.45">slow 5 static FC</text>
<text x="1397.0" y="1078.3" font-size="33" text-anchor="start" fill="#000" textLength="82.7" lengthAdjust="spacingAndGlyphs">LBLP</text>
<text x="1500.3" y="1081.0" font-size="35" text-anchor="start" fill="#000" textLength="68.4" lengthAdjust="spacingAndGlyphs">HCs</text>
<text x="1578.7" y="1081.0" font-size="35" text-anchor="start" fill="#000" textLength="94.3" lengthAdjust="spacingAndGlyphs">LBLP</text>
<text x="1688.0" y="1081.0" font-size="35" text-anchor="start" fill="#000" textLength="68.0" lengthAdjust="spacingAndGlyphs">HCs</text>
<path d="M332.8,1419.3 V1346.8 H499.5 V1419.3" fill="none" stroke="#ff0000" stroke-width="6"/>
<path d="M584.0,1419.3 V1287.0 H751.5 V1419.3" fill="none" stroke="#000000" stroke-width="6"/>
<path d="M415.7,1330.0 V1365.0 M375.0,1330.0 H457.3 M375.0,1365.0 H457.3" fill="none" stroke="#ff0000" stroke-width="3.3"/>
<path d="M668.3,1274.3 V1300.0 M627.0,1274.3 H710.0 M627.0,1300.0 H710.0" fill="none" stroke="#000000" stroke-width="3.3"/>
<line x1="248.8" y1="1156.0" x2="248.8" y2="1552.2" stroke="#000" stroke-width="4.6" stroke-linecap="butt"/>
<line x1="237.3" y1="1550.0" x2="837.5" y2="1550.0" stroke="#000" stroke-width="4.2" stroke-linecap="butt"/>
<line x1="237.3" y1="1419.3" x2="836.5" y2="1419.3" stroke="#000" stroke-width="4.2" stroke-linecap="butt"/>
<line x1="237.3" y1="1158.0" x2="248.8" y2="1158.0" stroke="#000" stroke-width="4" stroke-linecap="butt"/>
<line x1="237.3" y1="1289.3" x2="248.8" y2="1289.3" stroke="#000" stroke-width="4" stroke-linecap="butt"/>
<line x1="416.0" y1="1550.0" x2="416.0" y2="1561.5" stroke="#000" stroke-width="3.5" stroke-linecap="butt"/>
<line x1="667.5" y1="1550.0" x2="667.5" y2="1561.5" stroke="#000" stroke-width="3.5" stroke-linecap="butt"/>
<path d="M375.7,1195 V1152.7 H695.3 V1196" fill="none" stroke="#000" stroke-width="3.4"/>
<text x="506.0" y="1174.0" font-size="100" text-anchor="start" fill="#000" font-family="'Liberation Sans', sans-serif" font-weight="bold">*</text>
<circle cx="371.7" cy="1225.0" r="10" fill="#ff0000"/>
<circle cx="401.0" cy="1238.3" r="10" fill="#ff0000"/>
<circle cx="430.7" cy="1245.0" r="10" fill="#ff0000"/>
<circle cx="460.7" cy="1231.7" r="10" fill="#ff0000"/>
<circle cx="386.7" cy="1265.0" r="10" fill="#ff0000"/>
<circle cx="445.7" cy="1272.7" r="10" fill="#ff0000"/>
<circle cx="416.0" cy="1282.7" r="10" fill="#ff0000"/>
<circle cx="371.7" cy="1293.3" r="10" fill="#ff0000"/>
<circle cx="460.7" cy="1297.7" r="10" fill="#ff0000"/>
<circle cx="401.0" cy="1308.3" r="10" fill="#ff0000"/>
<circle cx="430.7" cy="1315.0" r="10" fill="#ff0000"/>
<circle cx="386.7" cy="1341.0" r="10" fill="#ff0000"/>
<circle cx="460.7" cy="1346.7" r="10" fill="#ff0000"/>
<circle cx="416.0" cy="1361.0" r="10" fill="#ff0000"/>
<circle cx="445.7" cy="1371.7" r="10" fill="#ff0000"/>
<circle cx="371.7" cy="1378.3" r="10" fill="#ff0000"/>
<circle cx="416.0" cy="1391.7" r="10" fill="#ff0000"/>
<circle cx="386.7" cy="1402.3" r="10" fill="#ff0000"/>
<circle cx="445.7" cy="1413.3" r="10" fill="#ff0000"/>
<circle cx="416.0" cy="1425.0" r="10" fill="#ff0000"/>
<circle cx="401.0" cy="1447.7" r="10" fill="#ff0000"/>
<circle cx="430.7" cy="1463.3" r="10" fill="#ff0000"/>
<circle cx="401.0" cy="1510.0" r="10" fill="#ff0000"/>
<circle cx="430.7" cy="1505.0" r="10" fill="#ff0000"/>
<circle cx="598.3" cy="1215.0" r="10" fill="#000000"/>
<circle cx="615.0" cy="1218.3" r="10" fill="#000000"/>
<circle cx="632.7" cy="1228.3" r="10" fill="#000000"/>
<circle cx="651.0" cy="1241.0" r="10" fill="#000000"/>
<circle cx="668.3" cy="1244.3" r="10" fill="#000000"/>
<circle cx="685.7" cy="1241.0" r="10" fill="#000000"/>
<circle cx="703.3" cy="1231.7" r="10" fill="#000000"/>
<circle cx="721.7" cy="1220.0" r="10" fill="#000000"/>
<circle cx="739.3" cy="1216.7" r="10" fill="#000000"/>
<circle cx="609.3" cy="1269.3" r="10" fill="#000000"/>
<circle cx="638.7" cy="1276.0" r="10" fill="#000000"/>
<circle cx="697.7" cy="1275.0" r="10" fill="#000000"/>
<circle cx="727.0" cy="1267.7" r="10" fill="#000000"/>
<circle cx="668.3" cy="1287.3" r="10" fill="#000000"/>
<circle cx="638.7" cy="1305.7" r="10" fill="#000000"/>
<circle cx="668.3" cy="1326.0" r="10" fill="#000000"/>
<circle cx="697.7" cy="1325.0" r="10" fill="#000000"/>
<circle cx="624.3" cy="1340.0" r="10" fill="#000000"/>
<circle cx="727.0" cy="1343.3" r="10" fill="#000000"/>
<circle cx="653.7" cy="1363.3" r="10" fill="#000000"/>
<circle cx="697.7" cy="1366.0" r="10" fill="#000000"/>
<circle cx="683.0" cy="1386.7" r="10" fill="#000000"/>
<circle cx="653.7" cy="1415.7" r="10" fill="#000000"/>
<text x="178.5" y="1177.0" font-size="35" text-anchor="start" fill="#000" textLength="45.2" lengthAdjust="spacingAndGlyphs">1.0</text>
<text x="177.0" y="1307.0" font-size="35" text-anchor="start" fill="#000" textLength="46.7" lengthAdjust="spacingAndGlyphs">0.5</text>
<text x="184.5" y="1438.5" font-size="35" text-anchor="start" fill="#000" textLength="45.3" lengthAdjust="spacingAndGlyphs">0.0</text>
<text x="166.5" y="1568.0" font-size="35" text-anchor="start" fill="#000" textLength="58.8" lengthAdjust="spacingAndGlyphs">-0.5</text>
<text transform="translate(137.5,1547.5) rotate(-90)" font-size="36.5" text-anchor="start" fill="#000" textLength="387.5" lengthAdjust="spacing" style="stroke-width:0.5">typical ststic FC (z stat)</text>
<text x="368.5" y="1611.0" font-size="35.5" text-anchor="start" fill="#000" textLength="89.0" lengthAdjust="spacingAndGlyphs">LBLP</text>
<text x="642.5" y="1611.0" font-size="35.5" text-anchor="start" fill="#000" textLength="67.5" lengthAdjust="spacingAndGlyphs">HCs</text>
<path d="M1227.3,1419.3 V1354.7 H1396.3 V1419.3" fill="none" stroke="#ff0000" stroke-width="6"/>
<path d="M1481.7,1419.3 V1299.7 H1650.0 V1419.3" fill="none" stroke="#000000" stroke-width="6"/>
<path d="M1311.3,1340.7 V1367.7 M1269.3,1340.7 H1353.7 M1269.3,1367.7 H1353.7" fill="none" stroke="#ff0000" stroke-width="3.3"/>
<path d="M1567.7,1288.3 V1310.7 M1523.7,1288.3 H1607.7 M1523.7,1310.7 H1607.7" fill="none" stroke="#000000" stroke-width="3.3"/>
<line x1="1143.0" y1="1154.0" x2="1143.0" y2="1554.0" stroke="#000" stroke-width="4.6" stroke-linecap="butt"/>
<line x1="1131.0" y1="1552.0" x2="1684.5" y2="1552.0" stroke="#000" stroke-width="4.2" stroke-linecap="butt"/>
<line x1="1131.0" y1="1419.3" x2="1683.7" y2="1419.3" stroke="#000" stroke-width="4.2" stroke-linecap="butt"/>
<line x1="1131.0" y1="1156.0" x2="1143.0" y2="1156.0" stroke="#000" stroke-width="4" stroke-linecap="butt"/>
<line x1="1131.0" y1="1221.7" x2="1143.0" y2="1221.7" stroke="#000" stroke-width="4" stroke-linecap="butt"/>
<line x1="1131.0" y1="1287.7" x2="1143.0" y2="1287.7" stroke="#000" stroke-width="4" stroke-linecap="butt"/>
<line x1="1131.0" y1="1353.3" x2="1143.0" y2="1353.3" stroke="#000" stroke-width="4" stroke-linecap="butt"/>
<line x1="1131.0" y1="1485.7" x2="1143.0" y2="1485.7" stroke="#000" stroke-width="4" stroke-linecap="butt"/>
<line x1="1312.0" y1="1552.0" x2="1312.0" y2="1563.0" stroke="#000" stroke-width="3.5" stroke-linecap="butt"/>
<line x1="1566.0" y1="1552.0" x2="1566.0" y2="1563.0" stroke="#000" stroke-width="3.5" stroke-linecap="butt"/>
<path d="M1253,1186 V1145 H1573 V1189" fill="none" stroke="#000" stroke-width="3.4"/>
<text x="1389.5" y="1166.0" font-size="100" text-anchor="start" fill="#000" font-family="'Liberation Sans', sans-serif" font-weight="bold">*</text>
<circle cx="1282.0" cy="1267.7" r="10" fill="#ff0000"/>
<circle cx="1311.3" cy="1269.3" r="10" fill="#ff0000"/>
<circle cx="1341.3" cy="1259.3" r="10" fill="#ff0000"/>
<circle cx="1241.0" cy="1296.0" r="10" fill="#ff0000"/>
<circle cx="1269.3" cy="1305.0" r="10" fill="#ff0000"/>
<circle cx="1297.3" cy="1314.0" r="10" fill="#ff0000"/>
<circle cx="1326.0" cy="1313.3" r="10" fill="#ff0000"/>
<circle cx="1354.3" cy="1299.0" r="10" fill="#ff0000"/>
<circle cx="1382.0" cy="1295.0" r="10" fill="#ff0000"/>
<circle cx="1252.0" cy="1328.3" r="10" fill="#ff0000"/>
<circle cx="1282.0" cy="1335.0" r="10" fill="#ff0000"/>
<circle cx="1341.3" cy="1331.7" r="10" fill="#ff0000"/>
<circle cx="1371.0" cy="1323.3" r="10" fill="#ff0000"/>
<circle cx="1311.3" cy="1348.3" r="10" fill="#ff0000"/>
<circle cx="1267.0" cy="1366.7" r="10" fill="#ff0000"/>
<circle cx="1356.0" cy="1366.7" r="10" fill="#ff0000"/>
<circle cx="1326.3" cy="1384.0" r="10" fill="#ff0000"/>
<circle cx="1297.0" cy="1393.3" r="10" fill="#ff0000"/>
<circle cx="1267.0" cy="1423.3" r="10" fill="#ff0000"/>
<circle cx="1356.0" cy="1427.7" r="10" fill="#ff0000"/>
<circle cx="1297.0" cy="1441.0" r="10" fill="#ff0000"/>
<circle cx="1326.3" cy="1442.7" r="10" fill="#ff0000"/>
<circle cx="1326.3" cy="1482.7" r="10" fill="#ff0000"/>
<circle cx="1297.0" cy="1501.7" r="10" fill="#ff0000"/>
<circle cx="1536.0" cy="1213.3" r="10" fill="#000000"/>
<circle cx="1595.3" cy="1208.3" r="10" fill="#000000"/>
<circle cx="1565.3" cy="1228.3" r="10" fill="#000000"/>
<circle cx="1506.0" cy="1253.3" r="10" fill="#000000"/>
<circle cx="1536.0" cy="1256.7" r="10" fill="#000000"/>
<circle cx="1565.3" cy="1265.0" r="10" fill="#000000"/>
<circle cx="1595.3" cy="1258.3" r="10" fill="#000000"/>
<circle cx="1624.7" cy="1254.0" r="10" fill="#000000"/>
<circle cx="1550.3" cy="1280.7" r="10" fill="#000000"/>
<circle cx="1494.3" cy="1301.0" r="10" fill="#000000"/>
<circle cx="1580.3" cy="1298.3" r="10" fill="#000000"/>
<circle cx="1512.0" cy="1315.0" r="10" fill="#000000"/>
<circle cx="1529.7" cy="1321.7" r="10" fill="#000000"/>
<circle cx="1547.7" cy="1322.7" r="10" fill="#000000"/>
<circle cx="1565.3" cy="1330.0" r="10" fill="#000000"/>
<circle cx="1583.0" cy="1328.3" r="10" fill="#000000"/>
<circle cx="1601.3" cy="1321.7" r="10" fill="#000000"/>
<circle cx="1618.7" cy="1318.3" r="10" fill="#000000"/>
<circle cx="1637.0" cy="1310.7" r="10" fill="#000000"/>
<circle cx="1550.3" cy="1349.0" r="10" fill="#000000"/>
<circle cx="1580.3" cy="1359.3" r="10" fill="#000000"/>
<circle cx="1580.3" cy="1396.0" r="10" fill="#000000"/>
<circle cx="1550.3" cy="1409.3" r="10" fill="#000000"/>
<text x="1056.2" y="1167.0" font-size="35" text-anchor="start" fill="#000" textLength="48.1" lengthAdjust="spacingAndGlyphs">2.0</text>
<text x="1059.2" y="1239.5" font-size="35" text-anchor="start" fill="#000" textLength="42.1" lengthAdjust="spacingAndGlyphs">1.5</text>
<text x="1060.7" y="1308.5" font-size="35" text-anchor="start" fill="#000" textLength="45.1" lengthAdjust="spacingAndGlyphs">1.0</text>
<text x="1062.2" y="1369.5" font-size="35" text-anchor="start" fill="#000" textLength="45.1" lengthAdjust="spacingAndGlyphs">0.5</text>
<text x="1060.7" y="1437.0" font-size="35" text-anchor="start" fill="#000" textLength="46.6" lengthAdjust="spacingAndGlyphs">0.0</text>
<text x="1050.2" y="1502.0" font-size="35" text-anchor="start" fill="#000" textLength="58.6" lengthAdjust="spacingAndGlyphs">-0.5</text>
<text x="1055.6" y="1567.0" font-size="35" text-anchor="start" fill="#000" textLength="60.7" lengthAdjust="spacingAndGlyphs">-1.0</text>
<text transform="translate(996.5,1540.0) rotate(-90)" font-size="36.5" text-anchor="start" fill="#000" textLength="382.5" lengthAdjust="spacing" style="stroke-width:0.5">slow 4 static FC (z stat)</text>
<text x="1279.5" y="1612.5" font-size="35.5" text-anchor="start" fill="#000" textLength="93.5" lengthAdjust="spacingAndGlyphs">LBLP</text>
<text x="1539.5" y="1614.0" font-size="35.5" text-anchor="start" fill="#000" textLength="68.5" lengthAdjust="spacingAndGlyphs">HCs</text>
</svg>
</body>
</html>
